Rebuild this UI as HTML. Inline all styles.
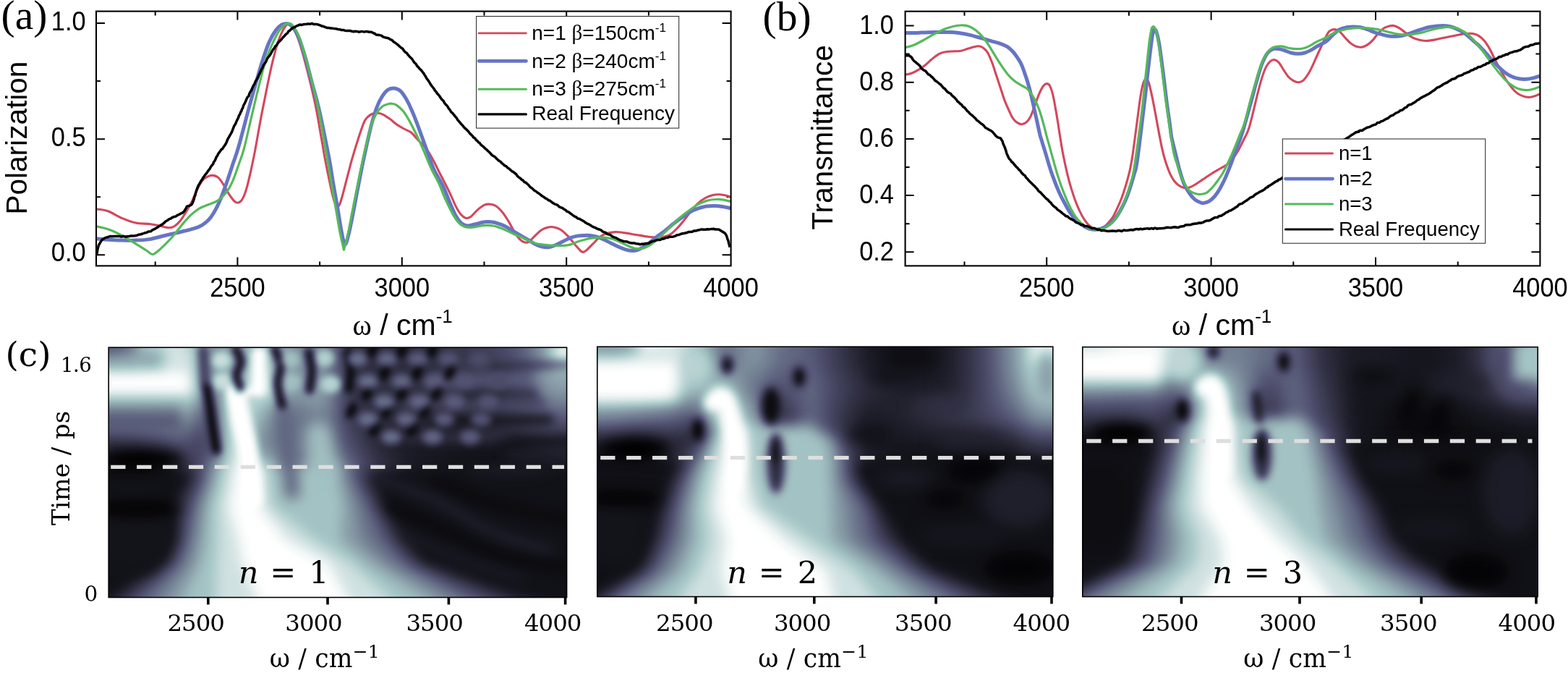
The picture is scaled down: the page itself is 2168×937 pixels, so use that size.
<!DOCTYPE html>
<html lang="en"><head><meta charset="utf-8"><title>Figure</title>
<style>html,body{margin:0;padding:0;background:#fff;overflow:hidden}svg{display:block}text{white-space:pre}</style></head><body>
<svg width="2168" height="937" viewBox="0 0 2168 937">
<rect width="2168" height="937" fill="#fff"/>
<g id="panel-a">
<clipPath id="clipA"><rect x="133.0" y="15.6" width="877.6" height="351.8"/></clipPath>
<path d="M328.4 367.4 v-12.0 M555.8 367.4 v-12.0 M783.2 367.4 v-12.0 " stroke="#000" stroke-width="2" fill="none"/>
<path d="M214.7 367.4 v-6.0 M442.1 367.4 v-6.0 M669.5 367.4 v-6.0 M896.9 367.4 v-6.0 " stroke="#000" stroke-width="2" fill="none"/>
<path d="M328.4 15.6 v12.0 M555.8 15.6 v12.0 M783.2 15.6 v12.0 " stroke="#000" stroke-width="2" fill="none"/>
<path d="M214.7 15.6 v6.0 M442.1 15.6 v6.0 M669.5 15.6 v6.0 M896.9 15.6 v6.0 " stroke="#000" stroke-width="2" fill="none"/>
<path d="M133.0 352.3 h12.0 M133.0 192.2 h12.0 M133.0 32.0 h12.0 " stroke="#000" stroke-width="2" fill="none"/>
<path d="M133.0 272.2 h6.0 M133.0 112.1 h6.0 " stroke="#000" stroke-width="2" fill="none"/>
<path d="M1010.6 352.3 h-12.0 M1010.6 192.2 h-12.0 M1010.6 32.0 h-12.0 " stroke="#000" stroke-width="2" fill="none"/>
<path d="M1010.6 272.2 h-6.0 M1010.6 112.1 h-6.0 " stroke="#000" stroke-width="2" fill="none"/>
<g clip-path="url(#clipA)" fill="none" stroke-linejoin="round" stroke-linecap="butt">
<path d="M133.3 288.9 C135.9 289.4 143.3 289.7 149.2 291.8 C155.1 293.9 162.0 298.7 168.4 301.4 C174.8 304.1 181.2 306.8 187.6 308.1 C194.0 309.5 201.4 308.8 206.8 309.5 C212.3 310.1 215.8 311.1 220.3 312.0 C224.7 312.8 230.2 314.7 233.7 314.8 C237.2 314.9 238.8 314.1 241.4 312.5 C243.9 310.9 246.5 308.4 249.1 305.2 C251.6 302.1 254.2 297.9 256.8 293.7 C259.3 289.5 261.9 285.4 264.4 280.3 C267.0 275.1 269.6 268.1 272.1 263.0 C274.7 257.9 277.2 252.7 279.8 249.5 C282.4 246.3 285.1 245.0 287.5 243.8 C289.9 242.6 292.0 242.3 294.2 242.4 C296.4 242.6 298.8 243.2 300.9 244.7 C303.0 246.2 304.8 248.7 306.7 251.5 C308.6 254.2 310.5 257.9 312.4 261.1 C314.4 264.3 316.3 267.8 318.2 270.7 C320.1 273.5 322.2 276.4 324.0 278.0 C325.7 279.6 327.2 280.4 328.8 280.3 C330.4 280.2 332.1 279.0 333.6 277.4 C335.0 275.8 336.1 273.7 337.4 270.7 C338.7 267.6 340.0 263.6 341.3 259.1 C342.5 254.7 343.8 249.2 345.1 243.8 C346.4 238.3 347.7 232.6 348.9 226.5 C350.2 220.4 350.8 217.8 352.8 207.3 C354.7 196.8 358.4 175.7 360.7 163.6 C362.9 151.6 364.5 144.4 366.4 134.8 C368.3 125.2 370.3 115.0 372.2 106.0 C374.1 97.1 376.0 88.7 377.9 81.1 C379.9 73.4 381.8 65.9 383.7 59.9 C385.6 53.9 387.5 49.2 389.5 45.1 C391.4 41.1 393.6 37.5 395.2 35.5 C396.8 33.6 397.1 32.7 399.1 33.6 C401.0 34.6 404.2 36.9 406.8 41.3 C409.3 45.7 411.9 52.3 414.4 59.9 C417.0 67.5 419.6 77.2 422.1 86.8 C424.7 96.4 427.2 106.7 429.8 117.5 C432.4 128.4 435.1 140.0 437.5 152.1 C439.9 164.2 442.2 178.8 444.2 190.0 C446.2 201.1 447.4 209.2 449.2 218.8 C451.0 228.4 452.9 238.0 455.0 247.6 C457.0 257.2 459.6 270.2 461.7 276.4 C463.8 282.7 465.7 285.4 467.4 285.1 C469.2 284.7 470.2 281.1 472.3 274.5 C474.3 267.9 477.4 255.3 479.9 245.7 C482.5 236.1 484.1 228.6 487.6 216.9 C491.1 205.1 497.7 184.0 500.9 175.2 C504.0 166.3 504.4 166.6 506.6 163.6 C508.9 160.7 511.7 158.7 514.3 157.5 C516.9 156.3 519.4 156.2 522.0 156.3 C524.5 156.5 526.8 156.9 529.7 158.3 C532.5 159.6 536.1 162.3 539.3 164.6 C542.5 166.9 545.7 170.0 548.9 172.3 C552.1 174.5 555.3 176.3 558.5 178.0 C561.7 179.8 565.0 180.5 568.1 182.8 C571.1 185.2 574.1 189.3 576.8 192.2 C579.6 195.0 581.9 197.0 584.5 199.9 C587.1 202.7 589.6 205.6 592.2 209.5 C594.7 213.3 597.3 218.1 599.9 222.9 C602.4 227.7 603.9 231.0 607.5 238.3 C611.2 245.6 618.4 259.2 622.0 266.8 C625.7 274.5 627.2 279.1 629.7 284.1 C632.3 289.1 635.0 293.7 637.4 296.6 C639.8 299.5 641.9 300.9 644.1 301.4 C646.4 301.9 648.1 301.4 650.9 299.5 C653.6 297.5 657.3 292.6 660.5 289.9 C663.7 287.1 667.2 284.4 670.1 283.1 C672.9 281.9 675.2 282.0 677.7 282.2 C680.3 282.4 682.5 282.6 685.4 284.5 C688.3 286.4 692.1 290.2 695.0 293.7 C697.9 297.2 700.1 301.1 702.7 305.2 C705.3 309.4 707.8 314.5 710.4 318.7 C713.0 322.8 715.5 327.5 718.1 330.2 C720.6 332.9 723.5 334.4 725.8 335.0 C728.0 335.6 729.3 335.5 731.5 334.0 C733.8 332.6 736.3 329.1 739.2 326.4 C742.1 323.6 745.6 319.8 748.8 317.7 C752.0 315.6 755.5 314.5 758.4 313.9 C761.3 313.2 763.2 313.2 766.1 313.9 C769.0 314.5 772.5 315.6 775.7 317.7 C778.9 319.8 782.1 323.0 785.3 326.4 C788.5 329.7 792.0 334.5 794.9 337.9 C797.8 341.2 800.7 344.8 802.6 346.5 C804.5 348.3 805.0 348.6 806.4 348.4 C807.9 348.3 809.0 347.5 811.2 345.6 C813.5 343.6 816.8 340.0 819.9 336.9 C822.9 333.9 826.3 329.7 829.5 327.3 C832.7 324.9 835.5 323.6 839.1 322.5 C842.6 321.4 846.8 320.8 850.6 320.6 C854.4 320.4 858.3 321.1 862.1 321.6 C866.0 322.0 869.8 322.8 873.6 323.5 C877.5 324.1 881.3 324.8 885.2 325.4 C889.0 326.0 892.8 326.9 896.7 327.3 C900.5 327.7 904.7 327.9 908.2 327.9 C911.7 327.9 914.6 328.1 917.8 327.3 C921.0 326.6 924.2 325.6 927.4 323.5 C930.6 321.4 933.8 318.2 937.0 314.8 C940.2 311.5 943.4 307.3 946.6 303.3 C949.8 299.3 953.0 294.7 956.2 290.8 C959.4 287.0 962.6 283.1 965.8 280.3 C969.0 277.4 972.2 275.3 975.4 273.5 C978.6 271.8 981.8 270.5 985.0 269.7 C988.2 268.9 991.4 268.6 994.6 268.7 C997.8 268.8 1001.5 269.6 1004.2 270.3 C1007.0 270.9 1009.8 272.2 1011.0 272.6" stroke="#d4475d" stroke-width="3.1"/>
<path d="M133.3 329.8 C135.9 330.0 143.3 330.8 149.2 331.2 C155.1 331.5 162.0 332.0 168.4 332.1 C174.8 332.3 181.2 332.4 187.6 332.1 C194.0 331.9 200.4 331.6 206.8 330.6 C213.2 329.6 219.6 327.5 226.0 326.0 C232.4 324.5 238.8 323.1 245.2 321.6 C251.6 320.0 259.3 318.2 264.4 316.8 C269.6 315.3 272.8 314.4 276.0 312.9 C279.2 311.5 281.1 310.2 283.6 308.1 C286.2 306.0 288.8 303.8 291.3 300.4 C293.9 297.1 296.4 292.9 299.0 287.9 C301.6 283.0 304.1 277.1 306.7 270.7 C309.2 264.3 311.8 256.9 314.4 249.5 C316.9 242.2 319.5 234.2 322.0 226.5 C324.6 218.8 326.2 215.8 329.7 203.4 C333.3 191.0 339.5 166.4 343.4 152.1 C347.3 137.8 349.8 128.8 353.0 117.5 C356.2 106.3 359.4 94.8 362.6 84.9 C365.8 75.0 369.0 65.3 372.2 58.0 C375.4 50.7 378.9 45.3 381.8 41.3 C384.7 37.3 387.1 35.6 389.5 34.2 C391.9 32.8 393.9 32.5 396.2 32.7 C398.4 32.9 400.2 32.3 402.9 35.4 C405.6 38.4 409.3 43.4 412.5 50.7 C415.7 58.0 418.9 68.3 422.1 79.1 C425.3 90.0 428.5 103.5 431.7 115.6 C434.9 127.8 437.4 134.9 441.3 152.1 C445.2 169.3 451.7 201.9 455.0 218.8 C458.2 235.7 458.8 242.2 460.7 253.4 C462.6 264.6 464.6 274.8 466.5 286.0 C468.4 297.2 470.5 312.0 472.3 320.6 C474.0 329.2 475.5 336.9 477.1 337.5 C478.7 338.1 480.1 331.1 481.9 324.4 C483.6 317.8 485.4 308.8 487.6 297.5 C489.9 286.3 492.7 270.3 495.3 257.2 C497.9 244.1 500.0 232.8 503.0 218.8 C506.0 204.8 510.4 184.8 513.4 173.0 C516.5 161.2 518.6 154.7 521.1 148.0 C523.7 141.3 526.2 136.6 528.8 132.6 C531.4 128.6 533.8 125.8 536.5 124.0 C539.2 122.2 542.3 121.8 545.1 122.1 C548.0 122.4 551.1 123.5 553.8 125.9 C556.5 128.3 558.9 132.2 561.5 136.5 C564.0 140.8 566.6 146.1 569.1 151.9 C571.7 157.6 574.3 164.3 576.8 171.1 C579.4 177.8 581.9 185.1 584.5 192.2 C587.1 199.2 589.6 206.3 592.2 213.3 C594.7 220.4 596.5 227.1 599.9 234.4 C603.2 241.8 608.7 249.6 612.4 257.2 C616.1 264.9 619.2 273.5 622.0 280.3 C624.9 287.0 627.2 292.9 629.7 297.5 C632.3 302.2 634.9 305.7 637.4 308.1 C640.0 310.5 641.9 311.6 645.1 312.0 C648.3 312.3 652.5 310.9 656.6 310.0 C660.8 309.2 666.2 307.3 670.1 306.8 C673.9 306.2 676.5 306.4 679.7 306.8 C682.9 307.1 686.1 308.0 689.3 309.1 C692.5 310.1 695.7 311.3 698.9 312.9 C702.1 314.5 705.3 316.8 708.5 318.7 C711.7 320.6 714.6 322.4 718.1 324.4 C721.6 326.5 726.1 329.1 729.6 331.2 C733.1 333.2 736.0 335.3 739.2 336.9 C742.4 338.5 745.6 340.0 748.8 340.8 C752.0 341.6 755.2 342.0 758.4 341.7 C761.6 341.4 764.8 340.1 768.0 338.8 C771.2 337.6 774.4 335.6 777.6 334.0 C780.8 332.4 784.0 330.5 787.2 329.2 C790.4 328.0 793.6 327.0 796.8 326.4 C800.0 325.7 803.2 325.6 806.4 325.4 C809.6 325.2 812.8 325.1 816.0 325.4 C819.2 325.7 822.4 326.4 825.6 327.3 C828.8 328.3 832.0 329.7 835.2 331.2 C838.4 332.6 841.6 334.4 844.8 336.0 C848.0 337.6 851.2 339.3 854.4 340.8 C857.6 342.2 860.8 343.6 864.0 344.6 C867.2 345.6 870.8 346.4 873.6 346.5 C876.5 346.7 878.8 346.4 881.3 345.6 C883.9 344.8 886.1 343.5 889.0 341.7 C891.9 340.0 895.4 337.4 898.6 335.0 C901.8 332.6 904.7 330.0 908.2 327.3 C911.7 324.6 915.9 321.7 919.7 318.7 C923.6 315.6 927.4 312.1 931.3 309.1 C935.1 306.0 938.9 303.1 942.8 300.4 C946.6 297.7 950.5 294.8 954.3 292.7 C958.1 290.7 962.0 289.2 965.8 287.9 C969.7 286.7 973.5 285.6 977.3 285.1 C981.2 284.5 985.3 284.4 988.9 284.5 C992.4 284.6 994.8 284.9 998.5 285.4 C1002.2 286.0 1008.9 287.5 1011.0 287.9" stroke="#6675c4" stroke-width="5"/>
<path d="M133.3 312.9 C135.9 313.6 143.3 314.7 149.2 316.8 C155.1 318.8 162.0 322.0 168.4 325.4 C174.8 328.8 181.9 333.4 187.6 336.9 C193.4 340.4 199.0 344.1 203.0 346.5 C206.9 349.0 208.2 352.0 211.4 351.5 C214.6 351.0 217.8 347.5 222.2 343.6 C226.5 339.8 232.4 334.0 237.5 328.3 C242.7 322.5 248.4 314.4 252.9 309.1 C257.4 303.8 260.6 300.1 264.4 296.6 C268.3 293.1 272.1 290.2 276.0 287.9 C279.8 285.7 283.6 284.7 287.5 283.1 C291.3 281.5 295.8 280.1 299.0 278.3 C302.2 276.6 304.1 275.0 306.7 272.6 C309.2 270.2 311.8 267.8 314.4 263.9 C316.9 260.1 319.5 255.5 322.0 249.5 C324.6 243.6 327.2 235.8 329.7 228.4 C332.3 221.0 334.5 216.2 337.4 205.4 C340.3 194.6 344.0 177.3 347.2 163.6 C350.5 150.0 353.6 136.1 356.8 123.3 C360.0 110.5 363.2 97.1 366.4 86.8 C369.6 76.6 372.8 69.1 376.0 61.9 C379.2 54.6 382.7 47.8 385.6 43.2 C388.5 38.6 391.1 36.2 393.3 34.4 C395.5 32.6 397.1 32.5 399.1 32.7 C401.0 32.8 402.3 32.0 404.8 35.4 C407.4 38.7 411.2 44.4 414.4 52.6 C417.6 60.9 420.8 73.4 424.0 84.9 C427.2 96.4 430.8 109.5 433.6 121.4 C436.5 133.2 438.1 139.1 441.3 156.0 C444.6 172.8 450.1 205.8 453.0 222.6 C456.0 239.5 456.9 246.0 458.8 257.2 C460.7 268.4 462.6 279.0 464.6 289.9 C466.5 300.7 468.6 313.8 470.3 322.5 C472.0 331.2 473.9 338.3 474.7 342.1 C475.6 345.9 475.3 345.2 475.5 345.2 C475.8 345.2 475.4 345.6 476.3 342.1 C477.2 338.6 479.0 333.1 480.9 324.4 C482.8 315.7 485.2 302.0 487.6 289.9 C490.0 277.7 492.7 263.9 495.3 251.5 C497.9 239.0 500.0 228.0 503.0 215.0 C506.0 201.9 510.4 182.9 513.4 173.0 C516.5 163.1 518.6 160.0 521.1 155.7 C523.7 151.4 526.2 149.0 528.8 147.1 C531.4 145.1 534.4 144.4 536.5 143.8 C538.6 143.1 539.4 143.0 541.3 143.2 C543.2 143.4 545.3 143.4 548.0 145.1 C550.7 146.9 554.4 149.8 557.6 153.8 C560.8 157.8 564.0 163.4 567.2 169.1 C570.4 174.9 573.6 181.6 576.8 188.3 C580.0 195.1 583.2 202.1 586.4 209.5 C589.6 216.8 592.6 225.2 596.0 232.5 C599.4 239.8 603.3 246.1 606.7 253.4 C610.1 260.7 613.1 269.4 616.3 276.4 C619.5 283.5 623.0 290.5 625.9 295.6 C628.8 300.7 631.0 304.3 633.6 307.1 C636.1 310.0 638.4 311.7 641.3 312.9 C644.1 314.1 647.7 314.4 650.9 314.4 C654.1 314.4 656.9 313.4 660.5 312.9 C664.0 312.4 668.5 311.5 672.0 311.4 C675.5 311.2 678.4 311.4 681.6 312.0 C684.8 312.5 688.0 313.7 691.2 314.8 C694.4 316.0 697.6 317.2 700.8 318.7 C704.0 320.1 707.2 322.0 710.4 323.5 C713.6 324.9 716.8 325.9 720.0 327.3 C723.2 328.8 726.4 330.7 729.6 332.1 C732.8 333.6 736.0 335.0 739.2 336.0 C742.4 336.9 745.6 337.4 748.8 337.9 C752.0 338.4 754.9 338.6 758.4 338.8 C761.9 339.1 766.4 339.3 769.9 339.4 C773.5 339.5 776.3 339.7 779.5 339.4 C782.7 339.2 785.9 338.8 789.1 337.9 C792.3 337.0 795.5 335.2 798.7 334.0 C801.9 332.9 805.1 332.0 808.3 331.2 C811.5 330.4 814.7 329.7 817.9 329.2 C821.1 328.8 824.3 328.4 827.5 328.3 C830.7 328.1 833.9 328.0 837.1 328.3 C840.4 328.6 843.6 329.2 846.8 330.2 C850.0 331.2 853.2 332.6 856.4 334.0 C859.6 335.5 862.8 337.4 866.0 338.8 C869.2 340.3 872.7 341.9 875.6 342.7 C878.4 343.5 880.7 343.6 883.2 343.6 C885.8 343.6 888.4 343.5 890.9 342.7 C893.5 341.9 895.7 340.8 898.6 338.8 C901.5 336.9 904.7 334.2 908.2 331.2 C911.7 328.1 915.9 324.3 919.7 320.6 C923.6 316.9 927.4 312.8 931.3 309.1 C935.1 305.4 938.9 301.7 942.8 298.5 C946.6 295.3 950.5 292.6 954.3 289.9 C958.1 287.1 962.0 284.3 965.8 282.2 C969.7 280.1 973.5 278.5 977.3 277.4 C981.2 276.3 985.3 275.7 988.9 275.5 C992.4 275.2 994.8 275.3 998.5 275.8 C1002.2 276.4 1008.9 278.2 1011.0 278.7" stroke="#55b95a" stroke-width="3.2"/>
<path d="M133.8 351.3 L134.2 349.3 L134.6 346.9 L134.9 344.4 L135.9 341.1 L136.7 338.3 L138.1 336.2 L139.6 333.5 L141.1 331.4 L143.3 330.0 L145.5 328.7 L147.2 328.1 L149.7 327.5 L152.0 326.5 L155.0 326.8 L157.6 326.5 L160.2 326.6 L162.9 326.4 L165.7 326.6 L168.2 327.2 L170.7 326.3 L173.4 327.2 L176.0 326.7 L178.7 326.5 L181.3 326.1 L184.0 326.1 L186.8 325.7 L189.5 325.2 L191.8 324.3 L194.8 323.7 L197.3 323.0 L199.8 322.0 L202.7 321.4 L205.2 320.0 L208.3 319.8 L210.8 317.8 L212.9 316.9 L215.5 315.4 L217.4 314.5 L219.7 312.7 L222.1 311.3 L224.7 309.9 L227.0 307.9 L228.9 306.0 L231.2 304.8 L233.7 302.9 L235.9 302.2 L238.6 300.3 L241.0 299.5 L243.0 299.1 L245.2 297.5 L247.9 296.3 L250.6 294.8 L252.9 293.8 L254.9 291.7 L256.4 289.1 L257.5 287.5 L258.4 285.1 L261.6 284.4 L264.5 283.1 L265.3 282.3 L266.3 280.3 L267.2 277.8 L268.4 274.7 L268.8 271.9 L269.9 270.3 L270.4 267.3 L271.1 265.0 L272.0 262.1 L273.0 259.5 L274.0 257.0 L275.0 255.2 L276.6 252.7 L277.8 250.2 L279.2 248.6 L280.8 245.7 L282.0 244.2 L283.6 241.6 L285.2 239.9 L286.7 237.8 L288.5 235.1 L290.0 233.6 L291.5 230.5 L293.1 228.4 L294.6 226.8 L295.5 223.9 L296.9 222.4 L298.0 220.1 L299.1 217.1 L300.3 215.6 L301.6 212.9 L302.8 211.0 L304.2 209.4 L306.0 206.5 L307.5 205.8 L309.0 203.3 L310.4 201.5 L312.6 198.0 L313.4 196.1 L314.3 193.7 L315.3 191.5 L316.5 189.7 L317.6 187.5 L319.1 185.1 L320.4 182.6 L321.5 180.0 L322.8 176.4 L323.7 174.1 L325.0 172.2 L326.3 169.6 L327.0 167.7 L328.2 165.3 L329.5 162.7 L330.4 159.9 L331.8 157.7 L332.8 154.9 L333.8 153.6 L334.4 151.3 L335.8 148.9 L336.5 146.1 L337.6 144.2 L338.8 141.8 L339.8 139.8 L341.0 136.6 L342.2 134.3 L343.8 132.9 L344.8 129.5 L345.9 127.4 L347.3 125.1 L348.4 122.9 L349.5 120.1 L350.8 117.6 L352.0 115.9 L353.1 112.7 L354.5 110.7 L355.6 108.8 L356.9 106.4 L358.0 103.5 L359.3 101.1 L360.5 98.6 L361.5 96.1 L362.9 93.8 L364.0 90.8 L365.4 88.9 L366.4 87.3 L367.9 84.9 L369.1 81.8 L370.7 79.4 L372.1 77.9 L373.4 75.9 L374.7 73.8 L376.1 71.0 L377.5 68.5 L379.0 67.1 L380.6 63.9 L382.3 62.7 L384.2 59.5 L385.8 57.6 L387.7 55.9 L389.5 54.0 L391.2 51.8 L393.3 49.7 L395.0 47.7 L397.4 45.8 L399.0 43.1 L401.1 41.9 L402.8 39.9 L404.9 38.5 L407.2 37.7 L409.6 36.1 L412.0 35.2 L414.4 34.1 L416.8 34.5 L419.1 33.8 L421.8 33.5 L424.0 33.3 L426.5 32.9 L428.7 33.3 L431.4 32.4 L433.6 33.5 L436.1 33.4 L438.3 33.6 L440.9 34.3 L443.1 35.1 L445.6 36.3 L447.5 36.6 L449.9 37.6 L452.7 38.5 L454.6 38.4 L456.9 39.1 L459.3 39.1 L462.0 39.6 L464.7 39.7 L467.1 40.4 L469.7 40.7 L472.1 41.5 L474.6 41.4 L476.8 42.2 L479.5 42.4 L481.5 42.5 L484.2 42.5 L486.7 43.3 L488.7 43.8 L491.1 43.2 L493.8 43.4 L496.5 44.3 L499.1 43.6 L501.4 43.6 L503.8 44.1 L506.5 43.4 L508.4 43.7 L510.5 44.3 L513.5 44.2 L515.9 45.6 L517.9 46.2 L520.0 48.0 L522.3 48.2 L524.9 48.6 L527.4 49.1 L529.5 50.8 L532.0 51.7 L534.6 52.3 L537.0 52.7 L539.4 54.4 L541.8 55.3 L544.2 57.8 L546.3 59.1 L548.8 60.9 L550.9 62.7 L552.6 64.2 L554.7 66.0 L556.7 67.3 L558.3 69.7 L560.2 72.0 L562.3 73.2 L564.1 75.6 L566.0 77.9 L567.9 79.9 L569.8 81.5 L571.5 84.5 L573.3 86.8 L575.2 88.5 L576.8 91.4 L578.5 92.9 L579.9 94.8 L582.2 96.9 L584.6 100.0 L585.8 101.4 L586.8 103.1 L588.1 105.2 L589.9 108.4 L591.2 110.0 L593.1 112.7 L594.7 115.5 L595.9 117.4 L597.3 119.2 L598.9 121.3 L600.2 122.8 L601.6 125.4 L603.4 127.3 L604.6 129.4 L606.1 130.8 L607.8 132.8 L608.9 134.8 L610.3 136.8 L611.8 138.4 L613.2 139.5 L614.5 142.2 L615.9 143.9 L617.5 145.5 L619.1 147.5 L620.4 150.0 L622.1 151.7 L623.2 154.0 L625.0 155.9 L626.4 157.0 L627.9 159.2 L629.9 161.5 L631.5 163.2 L632.7 165.6 L634.5 167.6 L636.2 169.7 L637.8 171.5 L639.8 173.6 L641.2 175.6 L643.0 177.4 L644.5 178.5 L646.2 180.3 L648.1 182.3 L649.8 184.7 L651.6 186.2 L653.2 187.8 L654.9 190.1 L656.8 191.1 L658.3 193.5 L660.1 194.7 L661.6 196.7 L663.3 197.6 L665.0 200.2 L666.9 201.7 L668.8 203.2 L670.8 205.3 L672.7 206.7 L674.8 208.7 L676.5 210.3 L678.6 212.5 L680.3 214.5 L682.4 215.8 L684.6 217.0 L686.1 218.8 L688.0 220.6 L690.1 222.3 L691.8 223.2 L693.9 225.5 L695.9 227.1 L697.8 228.9 L699.8 229.7 L702.0 232.0 L703.8 233.1 L706.2 235.1 L707.6 236.6 L709.5 237.4 L711.0 238.8 L713.7 240.7 L715.2 243.2 L717.2 244.9 L720.2 247.0 L721.3 248.5 L723.2 249.2 L724.8 251.5 L727.1 252.4 L728.9 254.0 L731.1 256.0 L733.0 258.5 L735.3 260.0 L737.3 261.8 L739.1 263.5 L741.2 264.5 L743.5 266.5 L745.4 267.5 L747.8 269.5 L749.8 271.0 L751.8 272.2 L753.9 273.9 L756.4 275.0 L758.2 276.6 L760.7 277.5 L762.9 279.3 L764.8 280.8 L767.1 282.1 L769.0 282.7 L771.2 283.6 L773.2 285.9 L775.3 286.7 L777.7 287.4 L779.5 289.0 L782.0 290.3 L783.8 292.2 L786.4 293.2 L788.3 294.6 L790.6 296.3 L792.7 297.9 L794.5 299.2 L796.6 300.0 L798.8 302.1 L801.3 302.4 L803.4 303.8 L805.3 304.8 L807.6 306.1 L809.7 307.8 L811.9 309.1 L813.9 309.7 L815.8 310.9 L818.5 312.7 L820.8 313.9 L823.4 314.8 L825.7 316.2 L828.3 317.0 L830.7 317.8 L833.0 319.8 L835.3 320.8 L837.6 321.5 L839.9 323.6 L842.1 324.1 L844.3 324.9 L846.7 326.9 L848.9 327.8 L850.8 328.4 L853.1 329.5 L855.7 331.0 L857.7 332.0 L859.8 332.6 L862.3 333.7 L865.2 333.7 L867.7 334.3 L870.7 335.6 L873.7 336.0 L876.7 335.9 L879.6 336.7 L882.7 337.1 L885.1 337.8 L887.8 337.1 L889.9 337.3 L893.0 336.5 L895.1 336.6 L897.4 336.1 L899.4 334.5 L902.0 333.6 L904.4 333.1 L907.3 332.1 L909.9 331.4 L912.9 331.4 L915.8 330.0 L918.0 330.0 L920.7 328.5 L923.2 328.4 L925.8 327.1 L928.6 327.3 L931.4 326.9 L933.6 326.3 L936.1 324.7 L938.9 324.4 L941.5 323.3 L944.0 322.7 L946.8 322.2 L949.1 321.8 L951.8 320.6 L954.5 320.6 L957.2 320.3 L959.4 318.9 L962.1 319.0 L965.0 318.1 L967.4 317.7 L969.9 316.9 L973.0 317.2 L975.4 317.2 L978.4 316.8 L981.1 316.9 L983.9 316.4 L986.4 316.2 L989.1 317.0 L991.9 317.1 L994.3 317.3 L996.5 318.7 L999.5 320.6 L1002.3 322.3 L1003.9 324.6 L1005.2 327.6 L1005.9 330.3 L1007.0 333.2 L1007.7 336.4 L1008.7 339.8 L1009.0 341.7" stroke="#000" stroke-width="3.5"/>
</g>
<rect x="133.0" y="15.6" width="877.6" height="351.8" fill="none" stroke="#000" stroke-width="2.1"/>
<rect x="658.6" y="22.5" width="280.1" height="154.6" fill="#fff" stroke="#222" stroke-width="1"/>
<path d="M662.1 45.9 H727.4" stroke="#d4475d" stroke-width="2.8" stroke-linecap="round"/>
<path d="M662.1 84.3 H727.4" stroke="#6675c4" stroke-width="4.8" stroke-linecap="round"/>
<path d="M662.1 123.3 H727.4" stroke="#55b95a" stroke-width="3" stroke-linecap="round"/>
<path d="M662.1 157.9 H727.4" stroke="#000" stroke-width="3.2" stroke-linecap="round"/>
<text x="735.3" y="54.6" font-size="28" text-anchor="start" font-family='"Liberation Sans", sans-serif' fill="#000" >n=1 <tspan font-family='"Liberation Serif", serif' font-size="29">β</tspan>=150cm<tspan dy="-11" font-size="17">-1</tspan></text>
<text x="735.3" y="93.6" font-size="28" text-anchor="start" font-family='"Liberation Sans", sans-serif' fill="#000" >n=2 <tspan font-family='"Liberation Serif", serif' font-size="29">β</tspan>=240cm<tspan dy="-11" font-size="17">-1</tspan></text>
<text x="735.3" y="131.6" font-size="28" text-anchor="start" font-family='"Liberation Sans", sans-serif' fill="#000" >n=3 <tspan font-family='"Liberation Serif", serif' font-size="29">β</tspan>=275cm<tspan dy="-11" font-size="17">-1</tspan></text>
<text x="735.3" y="166.2" font-size="28" text-anchor="start" font-family='"Liberation Sans", sans-serif' fill="#000" >Real Frequency</text>
<text x="328.4" y="409.5" font-size="36" text-anchor="middle" font-family='"Liberation Sans", sans-serif' fill="#000" textLength="76.5" lengthAdjust="spacingAndGlyphs">2500</text>
<text x="555.8" y="409.5" font-size="36" text-anchor="middle" font-family='"Liberation Sans", sans-serif' fill="#000" textLength="76.5" lengthAdjust="spacingAndGlyphs">3000</text>
<text x="783.2" y="409.5" font-size="36" text-anchor="middle" font-family='"Liberation Sans", sans-serif' fill="#000" textLength="76.5" lengthAdjust="spacingAndGlyphs">3500</text>
<text x="1010.6" y="409.5" font-size="36" text-anchor="middle" font-family='"Liberation Sans", sans-serif' fill="#000" textLength="76.5" lengthAdjust="spacingAndGlyphs">4000</text>
<text x="118.6" y="361.1" font-size="36" text-anchor="end" font-family='"Liberation Sans", sans-serif' fill="#000" textLength="47.8" lengthAdjust="spacingAndGlyphs">0.0</text>
<text x="118.6" y="202.0" font-size="36" text-anchor="end" font-family='"Liberation Sans", sans-serif' fill="#000" textLength="47.8" lengthAdjust="spacingAndGlyphs">0.5</text>
<text x="118.6" y="41.8" font-size="36" text-anchor="end" font-family='"Liberation Sans", sans-serif' fill="#000" textLength="47.8" lengthAdjust="spacingAndGlyphs">1.0</text>
<text x="0.0" y="0.0" font-size="40.6" text-anchor="middle" font-family='"Liberation Sans", sans-serif' fill="#000" transform="translate(36.8 190.6) rotate(-90)">Polarization</text>
<text x="487.5" y="462.5" font-size="41" text-anchor="start" font-family='"Liberation Sans", sans-serif' fill="#000" ><tspan font-family='"Liberation Serif", serif' font-size="40">ω</tspan> / cm<tspan dy="-17" font-size="26">-1</tspan></text>
<text x="1.5" y="39.6" font-size="57.5" text-anchor="start" font-family='"Liberation Serif", serif' fill="#000" >(a)</text>
</g>
<g id="panel-b">
<clipPath id="clipB"><rect x="1251.6" y="15.7" width="877.8" height="351.7"/></clipPath>
<path d="M1447.2 367.4 v-12.0 M1674.6 367.4 v-12.0 M1902.0 367.4 v-12.0 " stroke="#000" stroke-width="2" fill="none"/>
<path d="M1333.5 367.4 v-6.0 M1560.9 367.4 v-6.0 M1788.3 367.4 v-6.0 M2015.7 367.4 v-6.0 " stroke="#000" stroke-width="2" fill="none"/>
<path d="M1447.2 15.7 v12.0 M1674.6 15.7 v12.0 M1902.0 15.7 v12.0 " stroke="#000" stroke-width="2" fill="none"/>
<path d="M1333.5 15.7 v6.0 M1560.9 15.7 v6.0 M1788.3 15.7 v6.0 M2015.7 15.7 v6.0 " stroke="#000" stroke-width="2" fill="none"/>
<path d="M1251.6 348.3 h12.0 M1251.6 270.1 h12.0 M1251.6 191.9 h12.0 M1251.6 113.7 h12.0 M1251.6 35.5 h12.0 " stroke="#000" stroke-width="2" fill="none"/>
<path d="M1251.6 309.2 h6.0 M1251.6 231.0 h6.0 M1251.6 152.8 h6.0 M1251.6 74.6 h6.0 " stroke="#000" stroke-width="2" fill="none"/>
<path d="M2129.4 348.3 h-12.0 M2129.4 270.1 h-12.0 M2129.4 191.9 h-12.0 M2129.4 113.7 h-12.0 M2129.4 35.5 h-12.0 " stroke="#000" stroke-width="2" fill="none"/>
<path d="M2129.4 309.2 h-6.0 M2129.4 231.0 h-6.0 M2129.4 152.8 h-6.0 M2129.4 74.6 h-6.0 " stroke="#000" stroke-width="2" fill="none"/>
<g clip-path="url(#clipB)" fill="none" stroke-linejoin="round" stroke-linecap="butt">
<path d="M1251.7 103.1 C1253.2 102.8 1257.3 102.3 1260.4 101.2 C1263.4 100.1 1266.8 98.3 1270.0 96.4 C1273.2 94.5 1276.4 92.3 1279.6 89.7 C1282.8 87.1 1286.0 83.6 1289.2 81.1 C1292.4 78.5 1295.6 75.9 1298.8 74.3 C1302.0 72.7 1305.2 72.0 1308.4 71.5 C1311.6 70.9 1314.8 71.0 1318.0 70.9 C1321.2 70.7 1324.4 71.0 1327.6 70.5 C1330.8 70.0 1334.0 68.6 1337.2 67.6 C1340.4 66.7 1344.1 65.4 1346.8 64.7 C1349.5 64.1 1351.3 63.5 1353.5 63.8 C1355.7 64.1 1358.1 65.1 1360.2 66.7 C1362.3 68.3 1364.1 70.0 1366.0 73.4 C1367.9 76.7 1369.8 81.7 1371.8 86.8 C1373.7 91.9 1375.6 98.3 1377.5 104.1 C1379.4 109.9 1381.4 115.6 1383.3 121.4 C1385.2 127.1 1387.1 133.6 1389.0 138.7 C1391.0 143.8 1392.9 148.0 1394.8 152.1 C1396.7 156.3 1398.6 160.8 1400.6 163.6 C1402.5 166.5 1404.2 168.1 1406.3 169.4 C1408.4 170.7 1410.8 171.9 1413.0 171.7 C1415.3 171.5 1417.7 170.4 1419.8 168.4 C1421.8 166.5 1423.6 163.8 1425.5 159.8 C1427.4 155.8 1429.4 149.6 1431.3 144.4 C1433.2 139.3 1435.1 133.4 1437.0 129.1 C1439.0 124.7 1441.1 120.7 1442.8 118.5 C1444.6 116.3 1446.2 115.6 1447.6 115.6 C1449.1 115.6 1450.2 116.3 1451.5 118.5 C1452.7 120.7 1454.0 124.1 1455.3 129.1 C1456.6 134.0 1457.9 141.2 1459.1 148.3 C1460.4 155.3 1461.9 164.4 1463.0 171.3 C1464.1 178.3 1464.7 183.0 1465.9 190.0 C1467.0 196.9 1468.2 204.7 1469.8 213.0 C1471.5 221.4 1473.7 231.9 1475.6 239.9 C1477.5 247.9 1479.4 254.7 1481.4 261.1 C1483.3 267.5 1485.2 273.2 1487.1 278.3 C1489.0 283.5 1491.0 287.8 1492.9 291.8 C1494.8 295.8 1496.7 299.3 1498.6 302.3 C1500.6 305.4 1502.5 308.0 1504.4 310.0 C1506.3 312.1 1508.2 313.6 1510.2 314.8 C1512.1 316.0 1514.0 317.0 1515.9 317.1 C1517.8 317.3 1519.8 316.5 1521.7 315.8 C1523.6 315.1 1525.5 314.4 1527.4 312.9 C1529.4 311.5 1531.3 309.4 1533.2 307.1 C1535.1 304.9 1537.0 302.7 1539.0 299.5 C1540.9 296.3 1542.8 292.1 1544.7 287.9 C1546.7 283.8 1548.6 279.6 1550.5 274.5 C1552.4 269.4 1554.3 263.6 1556.3 257.2 C1558.2 250.8 1560.4 243.1 1562.0 236.1 C1563.6 229.0 1564.1 227.0 1565.9 215.0 C1567.7 202.9 1571.0 177.0 1572.8 163.6 C1574.6 150.3 1575.4 142.8 1576.7 134.8 C1577.9 126.8 1579.2 119.9 1580.5 115.6 C1581.8 111.3 1583.1 109.2 1584.3 108.9 C1585.6 108.6 1586.9 110.3 1588.2 113.7 C1589.5 117.1 1590.7 123.3 1592.0 129.1 C1593.3 134.8 1593.5 135.8 1595.9 148.3 C1598.3 160.8 1603.7 191.3 1606.5 204.2 C1609.2 217.0 1610.3 219.2 1612.2 225.3 C1614.1 231.4 1616.1 236.5 1618.0 240.7 C1619.9 244.8 1621.8 247.7 1623.7 250.3 C1625.7 252.8 1627.3 254.5 1629.5 256.0 C1631.7 257.6 1634.6 259.0 1637.2 259.5 C1639.7 260.0 1642.3 259.6 1644.9 258.9 C1647.4 258.2 1649.3 257.0 1652.5 255.1 C1655.7 253.1 1660.2 249.9 1664.1 247.4 C1667.9 244.8 1671.8 242.1 1675.6 239.7 C1679.4 237.3 1683.6 235.1 1687.1 233.0 C1690.6 230.9 1693.8 229.5 1696.7 227.2 C1699.6 225.0 1701.8 222.7 1704.4 219.5 C1707.0 216.3 1709.5 212.5 1712.1 208.0 C1714.6 203.5 1717.2 198.1 1719.8 192.6 C1722.3 187.2 1724.3 186.0 1727.4 175.4 C1730.6 164.8 1736.1 140.3 1738.9 129.1 C1741.8 117.8 1742.8 114.0 1744.7 107.9 C1746.6 101.9 1748.5 96.4 1750.5 92.6 C1752.4 88.7 1754.3 86.6 1756.2 84.9 C1758.1 83.2 1760.1 82.4 1762.0 82.6 C1763.9 82.8 1765.8 83.9 1767.7 85.9 C1769.7 87.8 1771.3 91.1 1773.5 94.5 C1775.7 97.9 1778.6 103.1 1781.2 106.0 C1783.7 108.9 1786.5 110.5 1788.9 111.8 C1791.3 113.1 1793.3 113.9 1795.6 113.7 C1797.8 113.5 1799.9 113.1 1802.3 110.8 C1804.7 108.6 1807.8 103.9 1810.0 100.3 C1812.2 96.6 1814.1 92.3 1815.8 88.7 C1817.4 85.2 1816.8 86.0 1820.0 79.1 C1823.2 72.3 1831.5 53.7 1835.0 47.4 C1838.5 41.2 1838.8 42.8 1840.8 41.7 C1842.7 40.6 1844.6 40.4 1846.5 40.7 C1848.4 41.0 1850.0 41.7 1852.3 43.6 C1854.5 45.5 1857.4 49.5 1860.0 52.3 C1862.5 55.0 1865.1 57.9 1867.6 59.9 C1870.2 61.9 1872.8 63.3 1875.3 64.2 C1877.9 65.0 1880.5 65.5 1883.0 65.1 C1885.6 64.7 1888.1 63.5 1890.7 61.9 C1893.3 60.2 1895.8 57.9 1898.4 55.1 C1900.9 52.4 1903.5 48.2 1906.1 45.5 C1908.6 42.8 1911.2 40.4 1913.7 38.8 C1916.3 37.2 1919.2 36.5 1921.4 35.9 C1923.7 35.4 1924.9 35.1 1927.2 35.5 C1929.4 36.0 1932.3 37.3 1934.9 38.8 C1937.4 40.3 1939.7 42.5 1942.5 44.6 C1945.4 46.6 1948.9 49.5 1952.1 51.3 C1955.4 53.1 1958.6 54.3 1961.8 55.1 C1965.0 56.0 1967.8 56.5 1971.4 56.5 C1974.9 56.5 1979.0 55.8 1982.9 55.1 C1986.7 54.5 1990.6 53.4 1994.4 52.6 C1998.2 51.8 2002.1 51.1 2005.9 50.3 C2009.8 49.6 2013.9 48.7 2017.4 48.0 C2021.0 47.4 2023.8 46.7 2027.0 46.5 C2030.2 46.2 2033.8 46.0 2036.7 46.5 C2039.5 47.0 2041.8 47.8 2044.3 49.4 C2046.9 51.0 2049.5 53.1 2052.0 56.1 C2054.6 59.1 2057.1 63.1 2059.7 67.6 C2062.3 72.1 2064.8 78.0 2067.4 83.0 C2069.9 87.9 2072.5 92.7 2075.1 97.4 C2077.6 102.0 2080.2 106.8 2082.7 110.8 C2085.3 114.8 2087.9 118.3 2090.4 121.4 C2093.0 124.4 2095.5 127.1 2098.1 129.1 C2100.7 131.0 2103.2 132.0 2105.8 132.9 C2108.3 133.8 2110.9 134.4 2113.5 134.4 C2116.0 134.4 2118.6 133.6 2121.2 132.9 C2123.7 132.2 2127.6 130.5 2128.8 130.0" stroke="#d4475d" stroke-width="3.1"/>
<path d="M1251.7 45.5 C1255.4 45.5 1266.9 45.3 1273.8 45.1 C1280.7 45.0 1286.6 44.7 1293.0 44.6 C1299.4 44.5 1306.8 44.4 1312.2 44.6 C1317.7 44.7 1320.9 44.9 1325.7 45.5 C1330.5 46.2 1335.9 47.2 1341.0 48.4 C1346.1 49.6 1351.3 51.2 1356.4 52.6 C1361.5 54.1 1367.3 55.8 1371.8 57.1 C1376.2 58.3 1379.8 59.0 1383.3 60.3 C1386.8 61.6 1390.0 62.9 1392.9 64.7 C1395.8 66.6 1398.3 69.1 1400.6 71.5 C1402.8 73.9 1404.4 76.3 1406.3 79.1 C1408.2 82.0 1410.2 84.6 1412.1 88.7 C1414.0 92.9 1416.1 99.0 1417.8 104.1 C1419.6 109.2 1421.2 114.3 1422.6 119.5 C1424.1 124.6 1425.2 129.4 1426.5 134.8 C1427.8 140.3 1429.0 146.4 1430.3 152.1 C1431.6 157.9 1432.9 163.6 1434.2 169.4 C1435.4 175.2 1437.2 183.3 1438.0 186.7 C1438.8 190.1 1437.8 186.2 1439.0 190.0 C1440.1 193.7 1442.9 202.8 1444.9 209.2 C1446.8 215.6 1448.7 222.3 1450.6 228.4 C1452.5 234.5 1454.1 239.6 1456.4 245.7 C1458.6 251.8 1461.5 259.1 1464.1 264.9 C1466.6 270.7 1469.2 275.5 1471.8 280.3 C1474.3 285.1 1476.9 289.9 1479.4 293.7 C1482.0 297.5 1484.6 300.6 1487.1 303.3 C1489.7 306.0 1492.2 308.1 1494.8 310.0 C1497.4 312.0 1499.9 313.6 1502.5 314.8 C1505.0 316.0 1507.6 316.8 1510.2 317.1 C1512.7 317.5 1515.3 317.5 1517.8 317.1 C1520.4 316.8 1523.0 315.9 1525.5 314.8 C1528.1 313.7 1530.6 312.5 1533.2 310.6 C1535.8 308.7 1538.3 306.4 1540.9 303.3 C1543.5 300.2 1546.0 296.3 1548.6 291.8 C1551.1 287.3 1554.0 281.5 1556.3 276.4 C1558.5 271.3 1560.1 266.8 1562.0 261.1 C1563.9 255.3 1566.0 248.6 1567.8 241.9 C1569.5 235.1 1570.0 238.9 1572.6 220.7 C1575.2 202.6 1580.9 153.3 1583.4 132.9 C1585.8 112.5 1585.9 109.5 1587.2 98.3 C1588.5 87.1 1589.9 74.5 1591.1 65.7 C1592.2 56.9 1593.1 49.7 1593.9 45.5 C1594.7 41.4 1595.1 41.0 1595.9 40.7 C1596.7 40.4 1597.6 40.4 1598.7 43.6 C1599.9 46.8 1601.3 52.7 1602.6 59.9 C1603.9 67.1 1605.1 77.2 1606.4 86.8 C1607.7 96.4 1609.0 107.3 1610.3 117.5 C1611.5 127.8 1612.8 138.7 1614.1 148.3 C1615.4 157.9 1617.0 168.2 1617.9 175.2 C1618.9 182.1 1618.6 183.5 1619.9 190.0 C1621.2 196.4 1623.7 206.0 1625.7 213.8 C1627.6 221.6 1629.5 230.1 1631.4 236.8 C1633.3 243.5 1634.9 249.0 1637.2 254.1 C1639.4 259.2 1642.3 263.9 1644.9 267.5 C1647.4 271.2 1650.0 274.1 1652.5 276.2 C1655.1 278.3 1658.3 279.3 1660.2 280.0 C1662.1 280.8 1662.1 280.9 1664.1 280.6 C1666.0 280.3 1669.2 279.6 1671.8 278.1 C1674.3 276.6 1676.9 274.4 1679.4 271.4 C1682.0 268.3 1684.6 264.3 1687.1 259.9 C1689.7 255.4 1692.2 250.3 1694.8 244.5 C1697.4 238.7 1699.9 232.0 1702.5 225.3 C1705.0 218.6 1707.6 211.2 1710.2 204.2 C1712.7 197.1 1714.6 193.3 1717.8 183.0 C1721.0 172.8 1726.1 154.1 1729.3 142.5 C1732.5 131.0 1734.5 122.7 1737.0 113.7 C1739.6 104.7 1742.1 95.5 1744.7 88.7 C1747.3 82.0 1749.8 76.9 1752.4 73.4 C1754.9 69.9 1757.5 68.6 1760.1 67.6 C1762.6 66.7 1765.2 67.3 1767.7 67.6 C1770.3 67.9 1772.5 68.6 1775.4 69.5 C1778.3 70.4 1781.8 72.2 1785.0 73.0 C1788.2 73.8 1791.4 74.3 1794.6 74.3 C1797.8 74.3 1801.0 74.0 1804.2 73.0 C1807.4 72.0 1811.2 70.0 1813.8 68.6 C1816.5 67.2 1816.5 66.8 1820.0 64.7 C1823.5 62.7 1831.2 58.8 1835.0 56.1 C1838.8 53.4 1839.8 51.0 1842.7 48.4 C1845.6 45.8 1849.1 42.5 1852.3 40.7 C1855.5 39.0 1858.7 38.5 1861.9 37.8 C1865.1 37.2 1868.3 36.9 1871.5 36.9 C1874.7 36.9 1877.9 37.2 1881.1 37.8 C1884.3 38.5 1887.5 39.6 1890.7 40.7 C1893.9 41.8 1897.1 43.4 1900.3 44.6 C1903.5 45.7 1906.7 46.6 1909.9 47.4 C1913.1 48.3 1916.3 49.3 1919.5 49.8 C1922.7 50.2 1925.9 50.4 1929.1 50.3 C1932.3 50.3 1935.5 50.0 1938.7 49.4 C1941.9 48.7 1945.1 47.5 1948.3 46.5 C1951.5 45.4 1954.7 44.2 1957.9 43.0 C1961.1 41.9 1964.3 40.7 1967.5 39.8 C1970.7 38.8 1973.9 37.9 1977.1 37.3 C1980.3 36.6 1983.5 36.2 1986.7 35.9 C1989.9 35.6 1993.4 35.3 1996.3 35.4 C1999.2 35.4 2001.4 35.9 2004.0 36.5 C2006.6 37.1 2009.1 37.8 2011.7 38.8 C2014.2 39.8 2016.8 41.2 2019.4 42.6 C2021.9 44.1 2024.5 45.5 2027.0 47.4 C2029.6 49.4 2032.2 51.9 2034.7 54.2 C2037.3 56.4 2039.9 58.5 2042.4 60.9 C2045.0 63.3 2047.5 65.9 2050.1 68.6 C2052.7 71.3 2055.2 74.3 2057.8 77.2 C2060.3 80.1 2062.9 83.1 2065.5 85.9 C2068.0 88.6 2070.6 91.1 2073.1 93.5 C2075.7 95.9 2078.3 98.3 2080.8 100.3 C2083.4 102.2 2085.9 103.8 2088.5 105.1 C2091.1 106.3 2093.6 107.2 2096.2 107.9 C2098.7 108.6 2101.3 109.1 2103.9 109.3 C2106.4 109.5 2109.0 109.5 2111.6 109.3 C2114.1 109.1 2116.4 108.6 2119.2 107.9 C2122.1 107.2 2127.2 105.5 2128.8 105.1" stroke="#6675c4" stroke-width="5"/>
<path d="M1251.7 65.7 C1253.8 65.1 1259.9 63.6 1264.2 61.9 C1268.5 60.1 1273.2 57.5 1277.6 55.1 C1282.1 52.7 1286.6 49.9 1291.1 47.4 C1295.6 45.0 1300.1 42.6 1304.5 40.7 C1309.0 38.9 1314.1 37.5 1318.0 36.5 C1321.8 35.5 1324.5 35.2 1327.6 35.0 C1330.6 34.8 1333.3 34.7 1336.2 35.4 C1339.1 36.0 1341.8 37.0 1344.9 38.8 C1347.9 40.7 1351.3 43.3 1354.5 46.5 C1357.7 49.7 1360.9 53.5 1364.1 58.0 C1367.3 62.5 1370.5 68.3 1373.7 73.4 C1376.9 78.5 1380.1 83.9 1383.3 88.7 C1386.5 93.5 1389.7 98.3 1392.9 102.2 C1396.1 106.0 1399.3 109.2 1402.5 111.8 C1405.7 114.4 1409.2 116.2 1412.1 117.9 C1415.0 119.7 1417.5 120.5 1419.8 122.3 C1422.0 124.2 1423.6 126.3 1425.5 129.1 C1427.4 131.8 1429.4 134.8 1431.3 138.7 C1433.2 142.5 1435.1 146.7 1437.0 152.1 C1439.0 157.6 1441.1 165.0 1442.8 171.3 C1444.6 177.6 1446.0 184.0 1447.6 190.0 C1449.2 195.9 1450.8 200.9 1452.5 207.3 C1454.3 213.7 1456.4 221.7 1458.3 228.4 C1460.2 235.1 1461.8 240.9 1464.1 247.6 C1466.3 254.3 1469.2 262.3 1471.8 268.7 C1474.3 275.1 1476.9 280.9 1479.4 286.0 C1482.0 291.1 1484.6 295.8 1487.1 299.5 C1489.7 303.1 1492.2 305.7 1494.8 308.1 C1497.4 310.5 1499.9 312.4 1502.5 313.9 C1505.0 315.3 1507.6 316.2 1510.2 316.8 C1512.7 317.3 1515.3 317.3 1517.8 317.1 C1520.4 317.0 1523.0 316.8 1525.5 315.8 C1528.1 314.8 1530.6 313.3 1533.2 311.4 C1535.8 309.5 1538.3 307.5 1540.9 304.3 C1543.5 301.0 1546.0 296.7 1548.6 291.8 C1551.1 286.8 1554.0 280.3 1556.3 274.5 C1558.5 268.7 1560.1 263.9 1562.0 257.2 C1563.9 250.5 1565.2 249.8 1567.8 234.2 C1570.4 218.6 1575.3 181.2 1577.6 163.6 C1579.9 146.1 1580.2 140.9 1581.5 129.1 C1582.7 117.2 1584.0 104.4 1585.3 92.6 C1586.6 80.7 1588.0 66.7 1589.1 58.0 C1590.3 49.4 1591.2 44.2 1592.0 40.7 C1592.8 37.2 1593.1 37.2 1593.9 36.9 C1594.7 36.6 1595.7 36.2 1596.8 38.8 C1597.9 41.4 1599.4 45.5 1600.7 52.3 C1601.9 59.0 1603.2 69.5 1604.5 79.1 C1605.8 88.7 1607.1 99.6 1608.3 109.9 C1609.6 120.1 1609.9 124.6 1612.2 140.6 C1614.4 156.6 1619.3 191.7 1621.8 206.1 C1624.4 220.5 1625.7 220.8 1627.6 227.2 C1629.5 233.6 1631.4 239.7 1633.3 244.5 C1635.3 249.3 1637.2 252.8 1639.1 256.0 C1641.0 259.2 1642.6 261.8 1644.9 263.7 C1647.1 265.6 1650.0 266.7 1652.5 267.5 C1655.1 268.3 1657.7 268.7 1660.2 268.5 C1662.8 268.3 1665.4 268.0 1667.9 266.6 C1670.5 265.1 1673.0 262.6 1675.6 259.9 C1678.2 257.1 1680.7 253.8 1683.3 250.3 C1685.8 246.7 1688.4 243.2 1691.0 238.7 C1693.5 234.3 1696.1 228.8 1698.6 223.4 C1701.2 217.9 1703.8 212.2 1706.3 206.1 C1708.9 200.0 1711.4 193.3 1714.0 186.9 C1716.6 180.5 1719.5 174.8 1721.7 167.7 C1723.9 160.6 1725.2 152.8 1727.4 144.4 C1729.6 136.1 1732.5 126.2 1735.1 117.5 C1737.7 108.9 1740.2 99.6 1742.8 92.6 C1745.3 85.5 1747.9 79.6 1750.5 75.3 C1753.0 71.0 1755.6 68.5 1758.1 66.7 C1760.7 64.8 1763.3 64.6 1765.8 64.2 C1768.4 63.7 1770.6 63.7 1773.5 64.2 C1776.4 64.6 1779.9 66.1 1783.1 66.7 C1786.3 67.2 1789.5 67.6 1792.7 67.6 C1795.9 67.6 1799.1 67.5 1802.3 66.7 C1805.5 65.9 1809.0 64.3 1811.9 62.8 C1814.9 61.4 1816.1 59.9 1820.0 58.0 C1823.8 56.1 1831.2 53.2 1835.0 51.3 C1838.8 49.4 1839.8 47.9 1842.7 46.5 C1845.6 45.0 1849.1 43.7 1852.3 42.6 C1855.5 41.6 1858.7 41.0 1861.9 40.3 C1865.1 39.7 1868.3 39.1 1871.5 38.8 C1874.7 38.5 1877.9 38.4 1881.1 38.4 C1884.3 38.4 1887.5 38.6 1890.7 38.8 C1893.9 39.0 1897.1 39.3 1900.3 39.8 C1903.5 40.2 1906.7 41.0 1909.9 41.7 C1913.1 42.4 1916.3 43.4 1919.5 44.2 C1922.7 45.0 1925.9 45.9 1929.1 46.5 C1932.3 47.1 1935.5 47.6 1938.7 47.8 C1941.9 48.1 1945.1 48.1 1948.3 47.8 C1951.5 47.6 1954.7 47.0 1957.9 46.5 C1961.1 45.9 1964.3 45.4 1967.5 44.6 C1970.7 43.8 1973.9 42.6 1977.1 41.7 C1980.3 40.8 1983.5 40.0 1986.7 39.4 C1989.9 38.7 1993.4 38.2 1996.3 37.8 C1999.2 37.5 2001.4 37.2 2004.0 37.3 C2006.6 37.4 2009.1 37.8 2011.7 38.4 C2014.2 39.1 2016.8 39.9 2019.4 41.1 C2021.9 42.3 2024.5 43.7 2027.0 45.5 C2029.6 47.4 2032.2 49.7 2034.7 52.3 C2037.3 54.8 2039.9 57.9 2042.4 60.9 C2045.0 63.9 2047.5 67.1 2050.1 70.5 C2052.7 73.9 2055.2 77.5 2057.8 81.1 C2060.3 84.6 2062.9 88.3 2065.5 91.6 C2068.0 95.0 2070.6 98.2 2073.1 101.2 C2075.7 104.3 2078.3 107.3 2080.8 109.9 C2083.4 112.4 2085.9 114.7 2088.5 116.6 C2091.1 118.5 2093.6 120.2 2096.2 121.4 C2098.7 122.6 2101.3 123.3 2103.9 123.9 C2106.4 124.4 2109.0 124.7 2111.6 124.7 C2114.1 124.6 2116.4 124.1 2119.2 123.3 C2122.1 122.5 2127.2 120.4 2128.8 119.9" stroke="#55b95a" stroke-width="3.2"/>
<path d="M1251.7 77.2 L1253.8 76.4 L1256.8 76.7 L1258.4 77.9 L1260.0 78.8 L1262.2 82.3 L1264.0 84.5 L1265.9 85.7 L1267.9 87.7 L1269.7 89.0 L1272.1 91.3 L1273.6 93.9 L1275.5 95.7 L1277.4 97.2 L1279.8 98.1 L1281.3 100.1 L1283.6 102.9 L1285.6 103.6 L1287.4 105.7 L1289.4 107.0 L1291.4 109.4 L1292.9 111.4 L1294.7 112.4 L1296.6 113.8 L1298.8 115.7 L1300.8 117.0 L1302.5 119.2 L1304.5 121.6 L1306.4 122.6 L1308.1 124.9 L1310.0 127.0 L1312.4 128.5 L1314.3 129.3 L1316.1 131.7 L1317.7 133.1 L1320.2 135.3 L1322.0 137.3 L1324.0 140.2 L1325.6 141.3 L1327.7 143.5 L1329.6 144.8 L1331.6 147.7 L1333.6 148.6 L1335.2 150.6 L1337.4 153.3 L1339.3 154.8 L1340.9 157.0 L1342.8 158.5 L1344.7 159.9 L1347.1 162.4 L1348.5 163.4 L1350.6 166.2 L1352.4 167.2 L1354.7 169.2 L1356.3 170.8 L1358.5 172.0 L1360.2 173.5 L1362.5 176.5 L1365.4 178.0 L1367.7 179.5 L1369.8 180.4 L1372.2 182.2 L1374.1 184.3 L1376.2 187.0 L1377.5 188.3 L1379.6 189.9 L1383.3 190.9 L1384.3 192.6 L1386.0 195.0 L1387.0 198.6 L1388.0 200.8 L1389.0 202.9 L1390.2 206.3 L1390.9 208.1 L1391.5 211.0 L1392.3 213.1 L1393.1 214.8 L1394.1 216.9 L1395.4 219.5 L1397.0 220.8 L1398.8 223.8 L1400.1 224.4 L1401.7 226.5 L1403.4 228.5 L1405.2 230.7 L1406.9 232.1 L1408.9 234.6 L1410.7 236.0 L1412.3 238.5 L1414.1 240.5 L1415.5 241.6 L1417.4 242.9 L1418.8 245.7 L1420.6 247.1 L1422.0 249.0 L1423.9 250.9 L1425.6 252.6 L1427.4 254.3 L1429.1 256.1 L1430.4 257.1 L1432.4 259.5 L1434.2 261.1 L1435.6 263.5 L1437.4 265.1 L1439.1 266.3 L1440.8 268.5 L1442.5 270.1 L1444.4 272.2 L1446.2 274.2 L1448.1 275.4 L1449.5 276.8 L1451.2 278.9 L1453.2 280.4 L1454.4 282.4 L1456.2 284.3 L1458.2 285.9 L1460.5 287.6 L1462.1 289.6 L1464.2 291.1 L1465.8 292.1 L1467.9 293.9 L1470.1 295.8 L1471.7 296.7 L1473.7 298.7 L1476.2 299.1 L1478.1 301.2 L1480.8 302.6 L1482.7 303.6 L1484.8 304.6 L1487.0 306.9 L1489.9 308.2 L1492.1 308.9 L1494.8 310.6 L1497.3 310.8 L1499.9 312.6 L1502.5 312.6 L1505.1 313.3 L1507.5 314.5 L1510.3 315.7 L1512.7 315.3 L1515.5 316.3 L1517.7 317.5 L1520.2 317.3 L1522.8 318.7 L1525.5 318.5 L1528.1 318.8 L1530.4 319.2 L1533.1 319.4 L1535.7 319.2 L1538.3 319.0 L1540.8 319.2 L1543.5 319.6 L1545.9 318.5 L1548.8 319.0 L1551.2 319.5 L1553.8 318.0 L1556.3 318.4 L1558.9 318.5 L1561.6 317.9 L1563.9 317.6 L1566.3 318.0 L1569.2 317.0 L1571.8 316.4 L1574.1 317.0 L1576.9 316.2 L1579.1 316.9 L1581.8 316.2 L1584.2 316.1 L1586.8 315.6 L1589.0 316.4 L1592.1 315.5 L1594.8 316.2 L1597.0 315.0 L1599.6 316.2 L1601.5 315.7 L1604.1 315.8 L1607.0 315.4 L1609.0 315.4 L1611.9 314.7 L1613.9 314.3 L1616.6 314.6 L1619.3 314.7 L1622.2 313.9 L1624.6 313.7 L1627.3 314.2 L1629.0 314.4 L1631.7 313.3 L1633.5 312.9 L1636.8 312.6 L1639.0 311.0 L1641.3 310.7 L1644.1 310.8 L1646.7 310.4 L1649.6 309.5 L1652.6 309.0 L1655.1 308.9 L1657.8 308.0 L1660.0 308.2 L1663.3 307.4 L1666.0 305.8 L1668.2 305.1 L1670.6 305.0 L1673.1 304.5 L1675.8 302.8 L1678.3 301.4 L1680.5 300.4 L1683.4 300.6 L1685.6 298.4 L1688.5 298.3 L1690.8 296.8 L1693.1 295.4 L1695.3 293.7 L1697.5 293.0 L1699.5 291.4 L1702.0 290.8 L1704.1 289.4 L1706.3 288.2 L1708.6 286.5 L1710.7 285.4 L1712.6 283.1 L1714.8 281.9 L1717.3 281.4 L1719.2 279.9 L1721.9 278.1 L1723.8 276.9 L1725.9 275.3 L1728.1 273.5 L1730.4 272.4 L1732.5 271.8 L1734.7 269.5 L1736.9 268.0 L1739.3 266.7 L1741.8 265.1 L1744.1 264.1 L1746.2 263.1 L1748.6 261.5 L1750.5 259.6 L1752.5 258.6 L1753.4 258.4 L1753.0 257.7 L1753.2 257.5 L1756.6 255.9 L1763.8 251.0 L1765.0 250.4 L1766.6 250.0 L1767.8 248.3 L1769.7 248.0 L1771.1 247.0 L1772.5 246.4 L1774.8 244.0 L1776.3 243.3 L1778.8 242.2 L1780.4 240.9 L1782.4 239.0 L1784.8 238.8 L1786.7 237.5 L1789.0 235.1 L1791.3 233.9 L1793.9 232.2 L1796.1 230.8 L1799.0 229.0 L1801.2 227.6 L1803.7 226.4 L1806.1 224.4 L1808.7 222.9 L1811.2 222.5 L1813.5 220.8 L1816.2 218.1 L1818.7 217.2 L1821.3 215.5 L1823.9 214.5 L1826.1 212.4 L1828.4 211.6 L1830.8 209.2 L1833.5 207.7 L1835.5 207.3 L1837.7 204.9 L1839.9 203.7 L1842.3 202.6 L1844.2 201.1 L1846.2 200.5 L1848.3 198.6 L1850.1 197.6 L1852.0 196.6 L1853.9 196.0 L1855.6 195.2 L1857.1 194.1 L1858.7 192.8 L1860.1 192.3 L1865.3 189.2 L1869.4 186.2 L1872.1 184.7 L1874.4 183.0 L1876.3 182.5 L1877.3 182.0 L1878.7 182.2 L1879.5 180.7 L1881.1 180.3 L1883.3 180.5 L1885.5 178.9 L1888.0 177.5 L1890.2 176.3 L1893.0 175.6 L1895.0 174.8 L1897.3 173.5 L1899.8 172.7 L1902.4 171.9 L1904.5 169.6 L1907.0 169.6 L1909.4 167.8 L1912.1 167.1 L1914.5 165.5 L1916.4 164.4 L1919.0 163.5 L1921.7 161.1 L1923.6 159.9 L1925.9 159.3 L1927.7 157.9 L1929.8 156.4 L1932.0 155.5 L1934.1 154.5 L1936.2 152.6 L1938.7 152.2 L1940.7 150.7 L1942.6 148.8 L1944.9 148.1 L1946.8 145.7 L1949.3 144.5 L1951.1 144.4 L1953.3 142.9 L1955.8 141.5 L1957.9 140.1 L1959.6 138.5 L1962.0 137.4 L1964.0 135.7 L1966.0 134.6 L1968.3 133.3 L1970.6 132.3 L1972.9 130.9 L1975.0 130.2 L1977.0 128.7 L1979.2 127.2 L1981.2 125.6 L1983.3 124.6 L1985.2 122.7 L1987.5 120.9 L1989.9 120.2 L1991.7 119.0 L1993.8 117.9 L1995.9 116.2 L1998.3 115.0 L2000.9 114.0 L2003.2 112.3 L2005.5 111.1 L2007.9 109.2 L2010.1 109.0 L2012.7 108.0 L2014.8 106.0 L2017.3 104.9 L2020.1 104.2 L2022.3 103.4 L2024.4 101.6 L2027.1 100.9 L2029.4 99.9 L2031.7 99.1 L2034.1 97.2 L2036.9 96.6 L2039.1 94.9 L2041.3 94.7 L2043.9 92.6 L2046.5 92.6 L2048.6 91.4 L2051.1 89.9 L2053.3 89.5 L2055.9 87.5 L2058.1 87.3 L2060.4 84.7 L2063.1 84.2 L2065.3 82.4 L2067.9 81.7 L2070.4 80.7 L2072.7 78.6 L2075.3 78.6 L2077.7 77.0 L2080.1 76.5 L2082.4 75.1 L2084.7 75.2 L2086.9 73.4 L2089.2 72.7 L2091.9 71.8 L2094.4 70.9 L2096.9 70.8 L2099.3 69.9 L2101.9 69.1 L2104.4 67.6 L2106.3 65.9 L2108.8 64.9 L2111.2 64.4 L2113.6 64.0 L2116.4 62.2 L2119.4 62.0 L2122.4 60.6 L2125.1 60.3 L2127.5 60.0 L2128.8 59.5" stroke="#000" stroke-width="3.5"/>
</g>
<rect x="1251.6" y="15.7" width="877.8" height="351.7" fill="none" stroke="#000" stroke-width="2.1"/>
<rect x="1773.3" y="192" width="280.4" height="144.2" fill="#fff" stroke="#222" stroke-width="1"/>
<path d="M1777.4 212.0 H1842.5" stroke="#d4475d" stroke-width="2.8" stroke-linecap="round"/>
<path d="M1777.4 247.1 H1842.5" stroke="#6675c4" stroke-width="4.8" stroke-linecap="round"/>
<path d="M1777.4 281.9 H1842.5" stroke="#55b95a" stroke-width="3" stroke-linecap="round"/>
<path d="M1777.4 317.0 H1842.5" stroke="#000" stroke-width="3.2" stroke-linecap="round"/>
<text x="1850.9" y="221.0" font-size="27.6" text-anchor="start" font-family='"Liberation Sans", sans-serif' fill="#000" >n=1</text>
<text x="1850.9" y="256.0" font-size="27.6" text-anchor="start" font-family='"Liberation Sans", sans-serif' fill="#000" >n=2</text>
<text x="1850.9" y="290.9" font-size="27.6" text-anchor="start" font-family='"Liberation Sans", sans-serif' fill="#000" >n=3</text>
<text x="1850.9" y="326.0" font-size="27.6" text-anchor="start" font-family='"Liberation Sans", sans-serif' fill="#000" >Real Frequency</text>
<text x="1447.2" y="409.5" font-size="36" text-anchor="middle" font-family='"Liberation Sans", sans-serif' fill="#000" textLength="76.5" lengthAdjust="spacingAndGlyphs">2500</text>
<text x="1674.6" y="409.5" font-size="36" text-anchor="middle" font-family='"Liberation Sans", sans-serif' fill="#000" textLength="76.5" lengthAdjust="spacingAndGlyphs">3000</text>
<text x="1902.0" y="409.5" font-size="36" text-anchor="middle" font-family='"Liberation Sans", sans-serif' fill="#000" textLength="76.5" lengthAdjust="spacingAndGlyphs">3500</text>
<text x="2129.4" y="409.5" font-size="36" text-anchor="middle" font-family='"Liberation Sans", sans-serif' fill="#000" textLength="76.5" lengthAdjust="spacingAndGlyphs">4000</text>
<text x="1236.0" y="359.6" font-size="36" text-anchor="end" font-family='"Liberation Sans", sans-serif' fill="#000" textLength="47.8" lengthAdjust="spacingAndGlyphs">0.2</text>
<text x="1236.0" y="281.4" font-size="36" text-anchor="end" font-family='"Liberation Sans", sans-serif' fill="#000" textLength="47.8" lengthAdjust="spacingAndGlyphs">0.4</text>
<text x="1236.0" y="203.2" font-size="36" text-anchor="end" font-family='"Liberation Sans", sans-serif' fill="#000" textLength="47.8" lengthAdjust="spacingAndGlyphs">0.6</text>
<text x="1236.0" y="125.0" font-size="36" text-anchor="end" font-family='"Liberation Sans", sans-serif' fill="#000" textLength="47.8" lengthAdjust="spacingAndGlyphs">0.8</text>
<text x="1236.0" y="46.8" font-size="36" text-anchor="end" font-family='"Liberation Sans", sans-serif' fill="#000" textLength="47.8" lengthAdjust="spacingAndGlyphs">1.0</text>
<text x="0.0" y="0.0" font-size="40.6" text-anchor="middle" font-family='"Liberation Sans", sans-serif' fill="#000" transform="translate(1151 190) rotate(-90)">Transmittance</text>
<text x="1620.0" y="462.5" font-size="41" text-anchor="start" font-family='"Liberation Sans", sans-serif' fill="#000" ><tspan font-family='"Liberation Serif", serif' font-size="40">ω</tspan> / cm<tspan dy="-17" font-size="26">-1</tspan></text>
<text x="1054.6" y="41.5" font-size="57.5" text-anchor="start" font-family='"Liberation Serif", serif' fill="#000" >(b)</text>
</g>
<g id="panel-c">
<clipPath id="hc1"><rect x="150.2" y="480.2" width="633.4" height="345.4"/></clipPath>
<g clip-path="url(#hc1)"><g filter="url(#bone)">
<rect x="90.2" y="420.2" width="753.4" height="465.4" fill="#1f1f1f"/>
<g filter="url(#b16)">
<rect x="79.9" y="409.9" width="110.2" height="109.0" fill="#a6a6a6"/>
<rect x="189.5" y="409.9" width="40.2" height="109.0" fill="#cccccc"/>
<rect x="229.1" y="409.9" width="40.2" height="109.0" fill="#e6e6e6"/>
<rect x="268.7" y="409.9" width="40.2" height="109.0" fill="#8c8c8c"/>
<rect x="308.2" y="409.9" width="40.2" height="109.0" fill="#a6a6a6"/>
<rect x="347.8" y="409.9" width="40.2" height="109.0" fill="#bfbfbf"/>
<rect x="387.4" y="409.9" width="40.2" height="109.0" fill="#8c8c8c"/>
<rect x="427.0" y="409.9" width="40.2" height="109.0" fill="#8c8c8c"/>
<rect x="466.6" y="409.9" width="40.2" height="109.0" fill="#383838"/>
<rect x="506.2" y="409.9" width="40.2" height="109.0" fill="#333333"/>
<rect x="545.8" y="409.9" width="40.2" height="109.0" fill="#333333"/>
<rect x="585.4" y="409.9" width="40.2" height="109.0" fill="#383838"/>
<rect x="625.0" y="409.9" width="40.2" height="109.0" fill="#404040"/>
<rect x="664.5" y="409.9" width="40.2" height="109.0" fill="#4c4c4c"/>
<rect x="704.1" y="409.9" width="40.2" height="109.0" fill="#666666"/>
<rect x="743.7" y="409.9" width="110.2" height="109.0" fill="#b2b2b2"/>
<rect x="79.9" y="518.3" width="110.2" height="39.0" fill="#f2f2f2"/>
<rect x="189.5" y="518.3" width="40.2" height="39.0" fill="#f7f7f7"/>
<rect x="229.1" y="518.3" width="40.2" height="39.0" fill="#ffffff"/>
<rect x="268.7" y="518.3" width="40.2" height="39.0" fill="#8c8c8c"/>
<rect x="308.2" y="518.3" width="40.2" height="39.0" fill="#bfbfbf"/>
<rect x="347.8" y="518.3" width="40.2" height="39.0" fill="#e6e6e6"/>
<rect x="387.4" y="518.3" width="40.2" height="39.0" fill="#9e9e9e"/>
<rect x="427.0" y="518.3" width="40.2" height="39.0" fill="#a6a6a6"/>
<rect x="466.6" y="518.3" width="40.2" height="39.0" fill="#383838"/>
<rect x="506.2" y="518.3" width="40.2" height="39.0" fill="#383838"/>
<rect x="545.8" y="518.3" width="40.2" height="39.0" fill="#383838"/>
<rect x="585.4" y="518.3" width="40.2" height="39.0" fill="#404040"/>
<rect x="625.0" y="518.3" width="40.2" height="39.0" fill="#474747"/>
<rect x="664.5" y="518.3" width="40.2" height="39.0" fill="#525252"/>
<rect x="704.1" y="518.3" width="40.2" height="39.0" fill="#6b6b6b"/>
<rect x="743.7" y="518.3" width="110.2" height="39.0" fill="#9e9e9e"/>
<rect x="79.9" y="556.7" width="110.2" height="39.0" fill="#808080"/>
<rect x="189.5" y="556.7" width="40.2" height="39.0" fill="#8c8c8c"/>
<rect x="229.1" y="556.7" width="40.2" height="39.0" fill="#a6a6a6"/>
<rect x="268.7" y="556.7" width="40.2" height="39.0" fill="#595959"/>
<rect x="308.2" y="556.7" width="40.2" height="39.0" fill="#f2f2f2"/>
<rect x="347.8" y="556.7" width="40.2" height="39.0" fill="#999999"/>
<rect x="387.4" y="556.7" width="40.2" height="39.0" fill="#737373"/>
<rect x="427.0" y="556.7" width="40.2" height="39.0" fill="#8c8c8c"/>
<rect x="466.6" y="556.7" width="40.2" height="39.0" fill="#404040"/>
<rect x="506.2" y="556.7" width="40.2" height="39.0" fill="#333333"/>
<rect x="545.8" y="556.7" width="40.2" height="39.0" fill="#333333"/>
<rect x="585.4" y="556.7" width="40.2" height="39.0" fill="#333333"/>
<rect x="625.0" y="556.7" width="40.2" height="39.0" fill="#383838"/>
<rect x="664.5" y="556.7" width="40.2" height="39.0" fill="#404040"/>
<rect x="704.1" y="556.7" width="40.2" height="39.0" fill="#525252"/>
<rect x="743.7" y="556.7" width="110.2" height="39.0" fill="#666666"/>
<rect x="79.9" y="595.0" width="110.2" height="39.0" fill="#333333"/>
<rect x="189.5" y="595.0" width="40.2" height="39.0" fill="#404040"/>
<rect x="229.1" y="595.0" width="40.2" height="39.0" fill="#595959"/>
<rect x="268.7" y="595.0" width="40.2" height="39.0" fill="#474747"/>
<rect x="308.2" y="595.0" width="40.2" height="39.0" fill="#f2f2f2"/>
<rect x="347.8" y="595.0" width="40.2" height="39.0" fill="#808080"/>
<rect x="387.4" y="595.0" width="40.2" height="39.0" fill="#808080"/>
<rect x="427.0" y="595.0" width="40.2" height="39.0" fill="#999999"/>
<rect x="466.6" y="595.0" width="40.2" height="39.0" fill="#525252"/>
<rect x="506.2" y="595.0" width="40.2" height="39.0" fill="#292929"/>
<rect x="545.8" y="595.0" width="40.2" height="39.0" fill="#1f1f1f"/>
<rect x="585.4" y="595.0" width="40.2" height="39.0" fill="#1c1c1c"/>
<rect x="625.0" y="595.0" width="40.2" height="39.0" fill="#1a1a1a"/>
<rect x="664.5" y="595.0" width="40.2" height="39.0" fill="#1a1a1a"/>
<rect x="704.1" y="595.0" width="40.2" height="39.0" fill="#1f1f1f"/>
<rect x="743.7" y="595.0" width="110.2" height="39.0" fill="#292929"/>
<rect x="79.9" y="633.4" width="110.2" height="39.0" fill="#080808"/>
<rect x="189.5" y="633.4" width="40.2" height="39.0" fill="#080808"/>
<rect x="229.1" y="633.4" width="40.2" height="39.0" fill="#262626"/>
<rect x="268.7" y="633.4" width="40.2" height="39.0" fill="#737373"/>
<rect x="308.2" y="633.4" width="40.2" height="39.0" fill="#ffffff"/>
<rect x="347.8" y="633.4" width="40.2" height="39.0" fill="#cccccc"/>
<rect x="387.4" y="633.4" width="40.2" height="39.0" fill="#737373"/>
<rect x="427.0" y="633.4" width="40.2" height="39.0" fill="#cccccc"/>
<rect x="466.6" y="633.4" width="40.2" height="39.0" fill="#737373"/>
<rect x="506.2" y="633.4" width="40.2" height="39.0" fill="#404040"/>
<rect x="545.8" y="633.4" width="40.2" height="39.0" fill="#1f1f1f"/>
<rect x="585.4" y="633.4" width="40.2" height="39.0" fill="#1a1a1a"/>
<rect x="625.0" y="633.4" width="40.2" height="39.0" fill="#141414"/>
<rect x="664.5" y="633.4" width="40.2" height="39.0" fill="#0d0d0d"/>
<rect x="704.1" y="633.4" width="40.2" height="39.0" fill="#141414"/>
<rect x="743.7" y="633.4" width="110.2" height="39.0" fill="#1a1a1a"/>
<rect x="79.9" y="671.8" width="110.2" height="39.0" fill="#0d0d0d"/>
<rect x="189.5" y="671.8" width="40.2" height="39.0" fill="#0d0d0d"/>
<rect x="229.1" y="671.8" width="40.2" height="39.0" fill="#1f1f1f"/>
<rect x="268.7" y="671.8" width="40.2" height="39.0" fill="#999999"/>
<rect x="308.2" y="671.8" width="40.2" height="39.0" fill="#ffffff"/>
<rect x="347.8" y="671.8" width="40.2" height="39.0" fill="#cccccc"/>
<rect x="387.4" y="671.8" width="40.2" height="39.0" fill="#8c8c8c"/>
<rect x="427.0" y="671.8" width="40.2" height="39.0" fill="#cccccc"/>
<rect x="466.6" y="671.8" width="40.2" height="39.0" fill="#8c8c8c"/>
<rect x="506.2" y="671.8" width="40.2" height="39.0" fill="#404040"/>
<rect x="545.8" y="671.8" width="40.2" height="39.0" fill="#1f1f1f"/>
<rect x="585.4" y="671.8" width="40.2" height="39.0" fill="#1a1a1a"/>
<rect x="625.0" y="671.8" width="40.2" height="39.0" fill="#121212"/>
<rect x="664.5" y="671.8" width="40.2" height="39.0" fill="#121212"/>
<rect x="704.1" y="671.8" width="40.2" height="39.0" fill="#121212"/>
<rect x="743.7" y="671.8" width="110.2" height="39.0" fill="#1a1a1a"/>
<rect x="79.9" y="710.2" width="110.2" height="39.0" fill="#141414"/>
<rect x="189.5" y="710.2" width="40.2" height="39.0" fill="#141414"/>
<rect x="229.1" y="710.2" width="40.2" height="39.0" fill="#333333"/>
<rect x="268.7" y="710.2" width="40.2" height="39.0" fill="#bfbfbf"/>
<rect x="308.2" y="710.2" width="40.2" height="39.0" fill="#ffffff"/>
<rect x="347.8" y="710.2" width="40.2" height="39.0" fill="#f2f2f2"/>
<rect x="387.4" y="710.2" width="40.2" height="39.0" fill="#cccccc"/>
<rect x="427.0" y="710.2" width="40.2" height="39.0" fill="#cccccc"/>
<rect x="466.6" y="710.2" width="40.2" height="39.0" fill="#999999"/>
<rect x="506.2" y="710.2" width="40.2" height="39.0" fill="#4c4c4c"/>
<rect x="545.8" y="710.2" width="40.2" height="39.0" fill="#1f1f1f"/>
<rect x="585.4" y="710.2" width="40.2" height="39.0" fill="#141414"/>
<rect x="625.0" y="710.2" width="40.2" height="39.0" fill="#121212"/>
<rect x="664.5" y="710.2" width="40.2" height="39.0" fill="#121212"/>
<rect x="704.1" y="710.2" width="40.2" height="39.0" fill="#121212"/>
<rect x="743.7" y="710.2" width="110.2" height="39.0" fill="#141414"/>
<rect x="79.9" y="748.5" width="110.2" height="39.0" fill="#141414"/>
<rect x="189.5" y="748.5" width="40.2" height="39.0" fill="#1a1a1a"/>
<rect x="229.1" y="748.5" width="40.2" height="39.0" fill="#666666"/>
<rect x="268.7" y="748.5" width="40.2" height="39.0" fill="#cccccc"/>
<rect x="308.2" y="748.5" width="40.2" height="39.0" fill="#f2f2f2"/>
<rect x="347.8" y="748.5" width="40.2" height="39.0" fill="#ffffff"/>
<rect x="387.4" y="748.5" width="40.2" height="39.0" fill="#f7f7f7"/>
<rect x="427.0" y="748.5" width="40.2" height="39.0" fill="#d9d9d9"/>
<rect x="466.6" y="748.5" width="40.2" height="39.0" fill="#b2b2b2"/>
<rect x="506.2" y="748.5" width="40.2" height="39.0" fill="#666666"/>
<rect x="545.8" y="748.5" width="40.2" height="39.0" fill="#262626"/>
<rect x="585.4" y="748.5" width="40.2" height="39.0" fill="#121212"/>
<rect x="625.0" y="748.5" width="40.2" height="39.0" fill="#0d0d0d"/>
<rect x="664.5" y="748.5" width="40.2" height="39.0" fill="#0d0d0d"/>
<rect x="704.1" y="748.5" width="40.2" height="39.0" fill="#0d0d0d"/>
<rect x="743.7" y="748.5" width="110.2" height="39.0" fill="#121212"/>
<rect x="79.9" y="786.9" width="110.2" height="109.0" fill="#262626"/>
<rect x="189.5" y="786.9" width="40.2" height="109.0" fill="#4c4c4c"/>
<rect x="229.1" y="786.9" width="40.2" height="109.0" fill="#b2b2b2"/>
<rect x="268.7" y="786.9" width="40.2" height="109.0" fill="#d9d9d9"/>
<rect x="308.2" y="786.9" width="40.2" height="109.0" fill="#f2f2f2"/>
<rect x="347.8" y="786.9" width="40.2" height="109.0" fill="#ffffff"/>
<rect x="387.4" y="786.9" width="40.2" height="109.0" fill="#ffffff"/>
<rect x="427.0" y="786.9" width="40.2" height="109.0" fill="#f2f2f2"/>
<rect x="466.6" y="786.9" width="40.2" height="109.0" fill="#d9d9d9"/>
<rect x="506.2" y="786.9" width="40.2" height="109.0" fill="#b2b2b2"/>
<rect x="545.8" y="786.9" width="40.2" height="109.0" fill="#666666"/>
<rect x="585.4" y="786.9" width="40.2" height="109.0" fill="#333333"/>
<rect x="625.0" y="786.9" width="40.2" height="109.0" fill="#1a1a1a"/>
<rect x="664.5" y="786.9" width="40.2" height="109.0" fill="#141414"/>
<rect x="704.1" y="786.9" width="40.2" height="109.0" fill="#1a1a1a"/>
<rect x="743.7" y="786.9" width="110.2" height="109.0" fill="#1a1a1a"/>
</g>
<g filter="url(#b9)">
<rect x="70.2" y="652" width="793.4" height="253.6" fill="#141414"/>
<polygon points="266.429,646 263.55,660 241.521,700 232.521,746 220.521,778 170.221,816 117.274,856 803.728,856 691.743,816 585.357,778 560.75,746 529.329,700 516.236,660 513.479,646" fill="#343434"/>
<polygon points="275.286,646 272.85,660 254.364,700 245.364,746 233.364,778 189.264,816 142.843,856 755.899,856 661.629,816 572.071,778 545.25,746 519.586,700 502.507,660 500.636,646" fill="#565656"/>
<polygon points="284.134,646 282.134,660 267.154,700 258.194,746 246.241,778 208.395,816 168.557,856 708.248,856 631.511,816 558.612,778 529.531,746 509.719,700 488.83,660 487.837,646" fill="#777777"/>
<polygon points="292.438,646 290.438,660 276.703,700 270.234,746 261.188,778 232.891,816 203.104,856 671.384,856 601.203,816 534.531,778 500.469,746 492.31,700 478.293,660 477.759,646" fill="#999999"/>
<polygon points="300.741,646 298.741,660 286.252,700 282.275,746 276.134,778 257.386,816 237.652,856 634.521,856 570.895,816 510.451,778 471.406,746 474.901,700 467.756,660 467.68,646" fill="#bbbbbb"/>
<polygon points="311.761,646 310.071,660 299.934,700 301.529,746 299.219,778 298.21,816 297.147,856 572.417,856 527.79,816 485.395,778 434.71,746 375.687,700 369.723,660 368.723,646" fill="#dddddd"/>
<polygon points="324.536,646 323.357,660 316.286,700 329.026,746 334.227,778 350.429,816 367.483,856 497.581,856 475.571,816 454.662,778 396.24,746 360.357,700 361.036,660 360.036,646" fill="#ffffff"/>
</g>
<g filter="url(#b9)">
<rect x="90" y="514" width="172" height="33" fill="#ffffff"/>
<rect x="90" y="484" width="138" height="25" fill="#a3a3a3"/>
<rect x="226" y="486" width="36" height="25" fill="#e0e0e0"/>
<rect x="90" y="548" width="170" height="17" fill="#a8a8a8"/>
<rect x="90" y="566" width="162" height="32" fill="#666666"/>
<ellipse cx="130" cy="478" rx="60" ry="12" fill="#595959"/>
<ellipse cx="198" cy="634" rx="56" ry="13" fill="#000000"/>
<ellipse cx="185" cy="735" rx="60" ry="60" fill="#161616"/>
<ellipse cx="190" cy="703" rx="62" ry="11" fill="#030303"/>
<path d="M440 600 C440.7 604.2 442.8 617.5 444.0 625.0 C445.2 632.5 446.5 641.7 447.0 645.0" fill="none" stroke="#b8b8b8" stroke-width="30" stroke-linecap="round" stroke-linejoin="round"/>
<path d="M392 565 C392.8 574.2 395.3 604.2 397.0 620.0 C398.7 635.8 400.8 650.0 402.0 660.0 C403.2 670.0 403.7 676.7 404.0 680.0" fill="none" stroke="#6b6b6b" stroke-width="20" stroke-linecap="round" stroke-linejoin="round"/>
<ellipse cx="783" cy="490" rx="19" ry="16" fill="#f7f7f7"/>
</g>
<g filter="url(#b5)">
<path d="M326 545 C327.2 550.8 330.5 568.3 333.0 580.0 C335.5 591.7 338.8 603.3 341.0 615.0 C343.2 626.7 344.7 637.5 346.0 650.0 C347.3 662.5 348.5 683.3 349.0 690.0" fill="none" stroke="#ffffff" stroke-width="28" stroke-linecap="round" stroke-linejoin="round"/>
<path d="M358 490 L358 538" fill="none" stroke="#ffffff" stroke-width="21" stroke-linecap="round" stroke-linejoin="round"/>
<path d="M325 546 L356 538" fill="none" stroke="#ffffff" stroke-width="12" stroke-linecap="round" stroke-linejoin="round"/>
<ellipse cx="306" cy="498" rx="13" ry="12" fill="#d9d9d9"/>
<ellipse cx="307" cy="527" rx="13" ry="12" fill="#d9d9d9"/>
<path d="M281 484 L284 530" fill="none" stroke="#4c4c4c" stroke-width="14" stroke-linecap="round" stroke-linejoin="round"/>
<path d="M286 536 C286.7 540.0 288.7 551.0 290.0 560.0 C291.3 569.0 292.5 579.7 294.0 590.0 C295.5 600.3 298.2 616.7 299.0 622.0" fill="none" stroke="#080808" stroke-width="13" stroke-linecap="round" stroke-linejoin="round"/>
<path d="M326 482 C327.2 485.0 332.8 494.0 333.0 500.0 C333.2 506.0 327.2 512.0 327.0 518.0 C326.8 524.0 331.2 533.0 332.0 536.0" fill="none" stroke="#080808" stroke-width="11" stroke-linecap="round" stroke-linejoin="round"/>
<path d="M380 482 C381.3 485.8 387.3 497.0 388.0 505.0 C388.7 513.0 383.7 520.8 384.0 530.0 C384.3 539.2 389.0 555.0 390.0 560.0" fill="none" stroke="#080808" stroke-width="11" stroke-linecap="round" stroke-linejoin="round"/>
<ellipse cx="402" cy="497" rx="13" ry="12" fill="#b8b8b8"/>
<ellipse cx="403" cy="528" rx="13" ry="12" fill="#b8b8b8"/>
<path d="M427 486 C427.7 490.3 430.8 503.2 431.0 512.0 C431.2 520.8 428.5 534.5 428.0 539.0" fill="none" stroke="#080808" stroke-width="11" stroke-linecap="round" stroke-linejoin="round"/>
<ellipse cx="449" cy="495" rx="13" ry="12" fill="#c7c7c7"/>
<ellipse cx="457" cy="531" rx="14" ry="12" fill="#cccccc"/>
<path d="M481 486 C481.7 490.3 484.8 503.3 485.0 512.0 C485.2 520.7 482.5 533.7 482.0 538.0" fill="none" stroke="#0a0a0a" stroke-width="11" stroke-linecap="round" stroke-linejoin="round"/>
</g>
<g filter="url(#b7)">
<path d="M600 527 C610.0 526.8 638.3 526.7 660.0 526.0 C681.7 525.3 718.3 523.5 730.0 523.0" fill="none" stroke="#616161" stroke-width="13" stroke-linecap="round" stroke-linejoin="round"/>
<path d="M560 559 C575.0 559.2 618.3 560.3 650.0 560.0 C681.7 559.7 733.3 557.5 750.0 557.0" fill="none" stroke="#4c4c4c" stroke-width="11" stroke-linecap="round" stroke-linejoin="round"/>
<path d="M560 604 C573.3 604.2 616.7 605.2 640.0 605.0 C663.3 604.8 690.0 603.3 700.0 603.0" fill="none" stroke="#383838" stroke-width="11" stroke-linecap="round" stroke-linejoin="round"/>
<path d="M640 545 L740 543" fill="none" stroke="#1f1f1f" stroke-width="8" stroke-linecap="round" stroke-linejoin="round"/>
<path d="M600 582 L760 580" fill="none" stroke="#141414" stroke-width="12" stroke-linecap="round" stroke-linejoin="round"/>
<path d="M680 507 L790 503" fill="none" stroke="#1f1f1f" stroke-width="7" stroke-linecap="round" stroke-linejoin="round"/>
<path d="M690 612 L790 608" fill="none" stroke="#0d0d0d" stroke-width="8" stroke-linecap="round" stroke-linejoin="round"/>
<path d="M700 630 L790 628" fill="none" stroke="#262626" stroke-width="7" stroke-linecap="round" stroke-linejoin="round"/>
</g>
<g filter="url(#b5)">
<ellipse cx="515" cy="484" rx="6" ry="12" fill="#050505" transform="rotate(25 515 484)"/>
<ellipse cx="556" cy="484" rx="6" ry="12" fill="#050505" transform="rotate(25 556 484)"/>
<ellipse cx="598" cy="484" rx="6" ry="12" fill="#050505" transform="rotate(25 598 484)"/>
<ellipse cx="532" cy="515" rx="6" ry="12" fill="#050505" transform="rotate(25 532 515)"/>
<ellipse cx="577" cy="515" rx="6" ry="12" fill="#050505" transform="rotate(25 577 515)"/>
<ellipse cx="622" cy="515" rx="6" ry="12" fill="#050505" transform="rotate(25 622 515)"/>
<ellipse cx="508" cy="543" rx="6" ry="12" fill="#050505" transform="rotate(25 508 543)"/>
<ellipse cx="556" cy="543" rx="6" ry="12" fill="#050505" transform="rotate(25 556 543)"/>
<ellipse cx="604" cy="543" rx="6" ry="12" fill="#050505" transform="rotate(25 604 543)"/>
<ellipse cx="486" cy="567.5" rx="6" ry="12" fill="#050505" transform="rotate(25 486 567.5)"/>
<ellipse cx="535" cy="567.5" rx="6" ry="12" fill="#050505" transform="rotate(25 535 567.5)"/>
<ellipse cx="588" cy="567.5" rx="6" ry="12" fill="#050505" transform="rotate(25 588 567.5)"/>
<ellipse cx="518" cy="592" rx="6" ry="12" fill="#050505" transform="rotate(25 518 592)"/>
<ellipse cx="570" cy="592" rx="6" ry="12" fill="#050505" transform="rotate(25 570 592)"/>
<ellipse cx="494.5" cy="496" rx="14" ry="10" fill="#757575"/>
<ellipse cx="535" cy="496" rx="14" ry="10" fill="#6e6e6e"/>
<ellipse cx="577.6" cy="496" rx="14" ry="10" fill="#666666"/>
<ellipse cx="620" cy="496" rx="14" ry="10" fill="#5e5e5e"/>
<ellipse cx="662" cy="496" rx="14" ry="10" fill="#575757"/>
<ellipse cx="508.7" cy="527" rx="14" ry="10" fill="#757575"/>
<ellipse cx="555.3" cy="527" rx="14" ry="10" fill="#6e6e6e"/>
<ellipse cx="600" cy="527" rx="14" ry="10" fill="#666666"/>
<ellipse cx="642.5" cy="527" rx="14" ry="10" fill="#5e5e5e"/>
<ellipse cx="688" cy="527" rx="14" ry="10" fill="#575757"/>
<ellipse cx="531" cy="555" rx="14" ry="10" fill="#757575"/>
<ellipse cx="579.6" cy="555" rx="14" ry="10" fill="#6e6e6e"/>
<ellipse cx="628.3" cy="555" rx="14" ry="10" fill="#666666"/>
<ellipse cx="675" cy="555" rx="14" ry="10" fill="#5e5e5e"/>
<ellipse cx="508.7" cy="579.5" rx="14" ry="10" fill="#757575"/>
<ellipse cx="561.4" cy="579.5" rx="14" ry="10" fill="#6e6e6e"/>
<ellipse cx="614" cy="579.5" rx="14" ry="10" fill="#666666"/>
<ellipse cx="665" cy="579.5" rx="14" ry="10" fill="#5e5e5e"/>
<ellipse cx="541" cy="604" rx="14" ry="10" fill="#757575"/>
<ellipse cx="598" cy="604" rx="14" ry="10" fill="#6e6e6e"/>
<ellipse cx="650" cy="604" rx="14" ry="10" fill="#666666"/>
</g>
<g filter="url(#b8)">
<path d="M520 662 C533.3 666.7 573.3 677.8 600.0 690.0 C626.7 702.2 653.3 723.3 680.0 735.0 C706.7 746.7 746.7 755.8 760.0 760.0" fill="none" stroke="#262626" stroke-width="12" stroke-linecap="round" stroke-linejoin="round"/>
<path d="M540 700 C553.3 705.8 593.3 723.3 620.0 735.0 C646.7 746.7 671.7 761.7 700.0 770.0 C728.3 778.3 775.0 782.5 790.0 785.0" fill="none" stroke="#080808" stroke-width="10" stroke-linecap="round" stroke-linejoin="round"/>
<path d="M600 665 C613.3 670.0 648.3 685.8 680.0 695.0 C711.7 704.2 771.7 715.8 790.0 720.0" fill="none" stroke="#080808" stroke-width="10" stroke-linecap="round" stroke-linejoin="round"/>
<path d="M560 740 C573.3 745.8 613.3 765.0 640.0 775.0 C666.7 785.0 706.7 795.8 720.0 800.0" fill="none" stroke="#212121" stroke-width="10" stroke-linecap="round" stroke-linejoin="round"/>
<ellipse cx="700" cy="650" rx="60" ry="8" fill="#212121"/>
</g>
</g></g>
<rect x="150.2" y="480.2" width="633.4" height="345.4" fill="none" stroke="#000" stroke-width="1.6"/>
<path d="M153.2 645.4 H780" stroke="#dedede" stroke-width="5.4" stroke-dasharray="20.3 15.6" fill="none"/>
<path d="M287.8 825.6 v10 M453 825.6 v10 M620.4 825.6 v10 M781.6 825.6 v10 " stroke="#000" stroke-width="3.6" fill="none"/>
<text x="270.7" y="871.8" font-size="32.4" letter-spacing="-1" text-anchor="middle" font-family='"DejaVu Serif", "Liberation Serif", serif'>2500</text>
<text x="433.5" y="871.8" font-size="32.4" letter-spacing="-1" text-anchor="middle" font-family='"DejaVu Serif", "Liberation Serif", serif'>3000</text>
<text x="600.7" y="871.8" font-size="32.4" letter-spacing="-1" text-anchor="middle" font-family='"DejaVu Serif", "Liberation Serif", serif'>3500</text>
<text x="764.2" y="871.8" font-size="32.4" letter-spacing="-1" text-anchor="middle" font-family='"DejaVu Serif", "Liberation Serif", serif'>4000</text>
<text x="372.7" y="921.9" font-size="34.5" letter-spacing="0.2" font-family='"DejaVu Serif", "Liberation Serif", serif'>ω / cm<tspan dy="-12.5" font-size="25">−1</tspan></text>
<text y="805.8" font-size="43" font-family='"DejaVu Serif", "Liberation Serif", serif'><tspan x="329.7" font-style="italic">n</tspan><tspan x="373.2">=</tspan><tspan x="427.2">1</tspan></text>
<clipPath id="hc2"><rect x="825.8" y="479.2" width="630" height="345.4"/></clipPath>
<g clip-path="url(#hc2)"><g filter="url(#bone)">
<rect x="765.8" y="419.2" width="750" height="465.4" fill="#1f1f1f"/>
<g filter="url(#b16)">
<rect x="755.5" y="408.9" width="110.0" height="109.0" fill="#cccccc"/>
<rect x="864.9" y="408.9" width="40.0" height="109.0" fill="#f7f7f7"/>
<rect x="904.2" y="408.9" width="40.0" height="109.0" fill="#f2f2f2"/>
<rect x="943.6" y="408.9" width="40.0" height="109.0" fill="#bfbfbf"/>
<rect x="983.0" y="408.9" width="40.0" height="109.0" fill="#737373"/>
<rect x="1022.4" y="408.9" width="40.0" height="109.0" fill="#999999"/>
<rect x="1061.8" y="408.9" width="40.0" height="109.0" fill="#737373"/>
<rect x="1101.1" y="408.9" width="40.0" height="109.0" fill="#666666"/>
<rect x="1140.5" y="408.9" width="40.0" height="109.0" fill="#404040"/>
<rect x="1179.9" y="408.9" width="40.0" height="109.0" fill="#1f1f1f"/>
<rect x="1219.2" y="408.9" width="40.0" height="109.0" fill="#141414"/>
<rect x="1258.6" y="408.9" width="40.0" height="109.0" fill="#141414"/>
<rect x="1298.0" y="408.9" width="40.0" height="109.0" fill="#262626"/>
<rect x="1337.4" y="408.9" width="40.0" height="109.0" fill="#4c4c4c"/>
<rect x="1376.8" y="408.9" width="40.0" height="109.0" fill="#8c8c8c"/>
<rect x="1416.1" y="408.9" width="110.0" height="109.0" fill="#e6e6e6"/>
<rect x="755.5" y="517.3" width="110.0" height="39.0" fill="#ffffff"/>
<rect x="864.9" y="517.3" width="40.0" height="39.0" fill="#ffffff"/>
<rect x="904.2" y="517.3" width="40.0" height="39.0" fill="#f2f2f2"/>
<rect x="943.6" y="517.3" width="40.0" height="39.0" fill="#b2b2b2"/>
<rect x="983.0" y="517.3" width="40.0" height="39.0" fill="#bfbfbf"/>
<rect x="1022.4" y="517.3" width="40.0" height="39.0" fill="#737373"/>
<rect x="1061.8" y="517.3" width="40.0" height="39.0" fill="#595959"/>
<rect x="1101.1" y="517.3" width="40.0" height="39.0" fill="#737373"/>
<rect x="1140.5" y="517.3" width="40.0" height="39.0" fill="#4c4c4c"/>
<rect x="1179.9" y="517.3" width="40.0" height="39.0" fill="#333333"/>
<rect x="1219.2" y="517.3" width="40.0" height="39.0" fill="#262626"/>
<rect x="1258.6" y="517.3" width="40.0" height="39.0" fill="#1f1f1f"/>
<rect x="1298.0" y="517.3" width="40.0" height="39.0" fill="#262626"/>
<rect x="1337.4" y="517.3" width="40.0" height="39.0" fill="#4c4c4c"/>
<rect x="1376.8" y="517.3" width="40.0" height="39.0" fill="#808080"/>
<rect x="1416.1" y="517.3" width="110.0" height="39.0" fill="#cccccc"/>
<rect x="755.5" y="555.7" width="110.0" height="39.0" fill="#8c8c8c"/>
<rect x="864.9" y="555.7" width="40.0" height="39.0" fill="#808080"/>
<rect x="904.2" y="555.7" width="40.0" height="39.0" fill="#737373"/>
<rect x="943.6" y="555.7" width="40.0" height="39.0" fill="#595959"/>
<rect x="983.0" y="555.7" width="40.0" height="39.0" fill="#ffffff"/>
<rect x="1022.4" y="555.7" width="40.0" height="39.0" fill="#999999"/>
<rect x="1061.8" y="555.7" width="40.0" height="39.0" fill="#333333"/>
<rect x="1101.1" y="555.7" width="40.0" height="39.0" fill="#737373"/>
<rect x="1140.5" y="555.7" width="40.0" height="39.0" fill="#404040"/>
<rect x="1179.9" y="555.7" width="40.0" height="39.0" fill="#1f1f1f"/>
<rect x="1219.2" y="555.7" width="40.0" height="39.0" fill="#262626"/>
<rect x="1258.6" y="555.7" width="40.0" height="39.0" fill="#333333"/>
<rect x="1298.0" y="555.7" width="40.0" height="39.0" fill="#404040"/>
<rect x="1337.4" y="555.7" width="40.0" height="39.0" fill="#4c4c4c"/>
<rect x="1376.8" y="555.7" width="40.0" height="39.0" fill="#666666"/>
<rect x="1416.1" y="555.7" width="110.0" height="39.0" fill="#999999"/>
<rect x="755.5" y="594.0" width="110.0" height="39.0" fill="#1a1a1a"/>
<rect x="864.9" y="594.0" width="40.0" height="39.0" fill="#0d0d0d"/>
<rect x="904.2" y="594.0" width="40.0" height="39.0" fill="#262626"/>
<rect x="943.6" y="594.0" width="40.0" height="39.0" fill="#262626"/>
<rect x="983.0" y="594.0" width="40.0" height="39.0" fill="#f2f2f2"/>
<rect x="1022.4" y="594.0" width="40.0" height="39.0" fill="#bfbfbf"/>
<rect x="1061.8" y="594.0" width="40.0" height="39.0" fill="#333333"/>
<rect x="1101.1" y="594.0" width="40.0" height="39.0" fill="#8c8c8c"/>
<rect x="1140.5" y="594.0" width="40.0" height="39.0" fill="#4c4c4c"/>
<rect x="1179.9" y="594.0" width="40.0" height="39.0" fill="#1a1a1a"/>
<rect x="1219.2" y="594.0" width="40.0" height="39.0" fill="#1a1a1a"/>
<rect x="1258.6" y="594.0" width="40.0" height="39.0" fill="#1a1a1a"/>
<rect x="1298.0" y="594.0" width="40.0" height="39.0" fill="#1a1a1a"/>
<rect x="1337.4" y="594.0" width="40.0" height="39.0" fill="#1a1a1a"/>
<rect x="1376.8" y="594.0" width="40.0" height="39.0" fill="#262626"/>
<rect x="1416.1" y="594.0" width="110.0" height="39.0" fill="#404040"/>
<rect x="755.5" y="632.4" width="110.0" height="39.0" fill="#0d0d0d"/>
<rect x="864.9" y="632.4" width="40.0" height="39.0" fill="#0d0d0d"/>
<rect x="904.2" y="632.4" width="40.0" height="39.0" fill="#333333"/>
<rect x="943.6" y="632.4" width="40.0" height="39.0" fill="#999999"/>
<rect x="983.0" y="632.4" width="40.0" height="39.0" fill="#ffffff"/>
<rect x="1022.4" y="632.4" width="40.0" height="39.0" fill="#cccccc"/>
<rect x="1061.8" y="632.4" width="40.0" height="39.0" fill="#333333"/>
<rect x="1101.1" y="632.4" width="40.0" height="39.0" fill="#b2b2b2"/>
<rect x="1140.5" y="632.4" width="40.0" height="39.0" fill="#737373"/>
<rect x="1179.9" y="632.4" width="40.0" height="39.0" fill="#333333"/>
<rect x="1219.2" y="632.4" width="40.0" height="39.0" fill="#1a1a1a"/>
<rect x="1258.6" y="632.4" width="40.0" height="39.0" fill="#121212"/>
<rect x="1298.0" y="632.4" width="40.0" height="39.0" fill="#0d0d0d"/>
<rect x="1337.4" y="632.4" width="40.0" height="39.0" fill="#080808"/>
<rect x="1376.8" y="632.4" width="40.0" height="39.0" fill="#0d0d0d"/>
<rect x="1416.1" y="632.4" width="110.0" height="39.0" fill="#141414"/>
<rect x="755.5" y="670.8" width="110.0" height="39.0" fill="#0d0d0d"/>
<rect x="864.9" y="670.8" width="40.0" height="39.0" fill="#1a1a1a"/>
<rect x="904.2" y="670.8" width="40.0" height="39.0" fill="#595959"/>
<rect x="943.6" y="670.8" width="40.0" height="39.0" fill="#cccccc"/>
<rect x="983.0" y="670.8" width="40.0" height="39.0" fill="#ffffff"/>
<rect x="1022.4" y="670.8" width="40.0" height="39.0" fill="#e6e6e6"/>
<rect x="1061.8" y="670.8" width="40.0" height="39.0" fill="#999999"/>
<rect x="1101.1" y="670.8" width="40.0" height="39.0" fill="#cccccc"/>
<rect x="1140.5" y="670.8" width="40.0" height="39.0" fill="#8c8c8c"/>
<rect x="1179.9" y="670.8" width="40.0" height="39.0" fill="#404040"/>
<rect x="1219.2" y="670.8" width="40.0" height="39.0" fill="#1a1a1a"/>
<rect x="1258.6" y="670.8" width="40.0" height="39.0" fill="#121212"/>
<rect x="1298.0" y="670.8" width="40.0" height="39.0" fill="#0d0d0d"/>
<rect x="1337.4" y="670.8" width="40.0" height="39.0" fill="#0d0d0d"/>
<rect x="1376.8" y="670.8" width="40.0" height="39.0" fill="#0d0d0d"/>
<rect x="1416.1" y="670.8" width="110.0" height="39.0" fill="#0d0d0d"/>
<rect x="755.5" y="709.2" width="110.0" height="39.0" fill="#080808"/>
<rect x="864.9" y="709.2" width="40.0" height="39.0" fill="#141414"/>
<rect x="904.2" y="709.2" width="40.0" height="39.0" fill="#666666"/>
<rect x="943.6" y="709.2" width="40.0" height="39.0" fill="#cccccc"/>
<rect x="983.0" y="709.2" width="40.0" height="39.0" fill="#f7f7f7"/>
<rect x="1022.4" y="709.2" width="40.0" height="39.0" fill="#ffffff"/>
<rect x="1061.8" y="709.2" width="40.0" height="39.0" fill="#f2f2f2"/>
<rect x="1101.1" y="709.2" width="40.0" height="39.0" fill="#d9d9d9"/>
<rect x="1140.5" y="709.2" width="40.0" height="39.0" fill="#b2b2b2"/>
<rect x="1179.9" y="709.2" width="40.0" height="39.0" fill="#666666"/>
<rect x="1219.2" y="709.2" width="40.0" height="39.0" fill="#262626"/>
<rect x="1258.6" y="709.2" width="40.0" height="39.0" fill="#141414"/>
<rect x="1298.0" y="709.2" width="40.0" height="39.0" fill="#0d0d0d"/>
<rect x="1337.4" y="709.2" width="40.0" height="39.0" fill="#0d0d0d"/>
<rect x="1376.8" y="709.2" width="40.0" height="39.0" fill="#0d0d0d"/>
<rect x="1416.1" y="709.2" width="110.0" height="39.0" fill="#0d0d0d"/>
<rect x="755.5" y="747.5" width="110.0" height="39.0" fill="#080808"/>
<rect x="864.9" y="747.5" width="40.0" height="39.0" fill="#262626"/>
<rect x="904.2" y="747.5" width="40.0" height="39.0" fill="#8c8c8c"/>
<rect x="943.6" y="747.5" width="40.0" height="39.0" fill="#cccccc"/>
<rect x="983.0" y="747.5" width="40.0" height="39.0" fill="#f2f2f2"/>
<rect x="1022.4" y="747.5" width="40.0" height="39.0" fill="#ffffff"/>
<rect x="1061.8" y="747.5" width="40.0" height="39.0" fill="#ffffff"/>
<rect x="1101.1" y="747.5" width="40.0" height="39.0" fill="#f2f2f2"/>
<rect x="1140.5" y="747.5" width="40.0" height="39.0" fill="#cccccc"/>
<rect x="1179.9" y="747.5" width="40.0" height="39.0" fill="#808080"/>
<rect x="1219.2" y="747.5" width="40.0" height="39.0" fill="#4c4c4c"/>
<rect x="1258.6" y="747.5" width="40.0" height="39.0" fill="#1a1a1a"/>
<rect x="1298.0" y="747.5" width="40.0" height="39.0" fill="#080808"/>
<rect x="1337.4" y="747.5" width="40.0" height="39.0" fill="#080808"/>
<rect x="1376.8" y="747.5" width="40.0" height="39.0" fill="#080808"/>
<rect x="1416.1" y="747.5" width="110.0" height="39.0" fill="#080808"/>
<rect x="755.5" y="785.9" width="110.0" height="109.0" fill="#1a1a1a"/>
<rect x="864.9" y="785.9" width="40.0" height="109.0" fill="#595959"/>
<rect x="904.2" y="785.9" width="40.0" height="109.0" fill="#b2b2b2"/>
<rect x="943.6" y="785.9" width="40.0" height="109.0" fill="#cccccc"/>
<rect x="983.0" y="785.9" width="40.0" height="109.0" fill="#e6e6e6"/>
<rect x="1022.4" y="785.9" width="40.0" height="109.0" fill="#f7f7f7"/>
<rect x="1061.8" y="785.9" width="40.0" height="109.0" fill="#ffffff"/>
<rect x="1101.1" y="785.9" width="40.0" height="109.0" fill="#ffffff"/>
<rect x="1140.5" y="785.9" width="40.0" height="109.0" fill="#d9d9d9"/>
<rect x="1179.9" y="785.9" width="40.0" height="109.0" fill="#bfbfbf"/>
<rect x="1219.2" y="785.9" width="40.0" height="109.0" fill="#737373"/>
<rect x="1258.6" y="785.9" width="40.0" height="109.0" fill="#333333"/>
<rect x="1298.0" y="785.9" width="40.0" height="109.0" fill="#0d0d0d"/>
<rect x="1337.4" y="785.9" width="40.0" height="109.0" fill="#050505"/>
<rect x="1376.8" y="785.9" width="40.0" height="109.0" fill="#080808"/>
<rect x="1416.1" y="785.9" width="110.0" height="109.0" fill="#0d0d0d"/>
</g>
<g filter="url(#b9)">
<rect x="745.8" y="634" width="790" height="270.6" fill="#131313"/>
<polygon points="975.905,588 967.086,606 946.538,632 929.81,660 915.081,700 901.624,746 884.171,788 840.352,815 775.435,855 1463.59,855 1358.66,815 1287.83,788 1243.11,746 1215.92,700 1187.19,660 1186.28,632 1176.37,606 1138.91,588" fill="#323232"/>
<polygon points="980.381,588 972.457,606 954.148,632 938.762,660 925.376,700 914.605,746 894.914,788 851.99,815 788.4,855 1421.27,855 1332.25,815 1272.17,788 1223.86,746 1205.62,700 1178.24,660 1177.78,632 1168.31,606 1133.54,588" fill="#545454"/>
<polygon points="984.857,588 977.829,606 961.757,632 947.714,660 935.671,700 927.586,746 905.657,788 863.629,815 801.364,855 1378.94,855 1305.84,815 1256.5,788 1204.61,746 1195.33,700 1169.29,660 1169.27,632 1160.26,606 1128.17,588" fill="#767676"/>
<polygon points="988.656,588 982.469,606 969.312,632 957.344,660 946.969,700 943.438,746 923.875,788 887.562,815 833.766,855 1336.31,855 1275.75,815 1234.88,788 1178,746 1173.03,700 1158.69,660 1158.69,632 1151.03,606 1120.83,588" fill="#989898"/>
<polygon points="992.433,588 987.085,606 976.866,632 966.996,660 958.299,700 959.384,746 942.339,788 911.902,815 866.809,855 1293.66,855 1245.54,815 1213.05,788 1151.14,746 1150.34,700 1148.04,660 1148.04,632 1141.77,606 1113.42,588" fill="#bbbbbb"/>
<polygon points="997.022,588 994.137,606 987.253,632 979.764,660 972.67,700 979.901,746 966.762,788 947.667,815 919.377,855 1234.72,855 1202.62,815 1180.95,788 1119.75,746 1053.42,700 1040.65,660 1039.16,632 1037.37,606 1034.68,588" fill="#dddddd"/>
<polygon points="1002.19,588 1002.92,606 999.648,632 994.742,660 989.198,700 1003.66,746 996.857,788 1004.14,815 1014.94,855 1159.38,855 1149.86,815 1143.43,788 1085.15,746 1035.35,700 1029.81,660 1030.9,632 1031.18,606 1028.99,588" fill="#ffffff"/>
</g>
<g filter="url(#b9)">
<rect x="760" y="498" width="174" height="53" fill="#ffffff"/>
<rect x="760" y="484" width="178" height="14" fill="#d9d9d9"/>
<ellipse cx="962" cy="506" rx="22" ry="24" fill="#cccccc"/>
<ellipse cx="838" cy="480" rx="46" ry="13" fill="#999999"/>
<ellipse cx="878" cy="620" rx="48" ry="13" fill="#000000"/>
<ellipse cx="850" cy="735" rx="45" ry="50" fill="#161616"/>
<ellipse cx="860" cy="689" rx="55" ry="10" fill="#030303"/>
<ellipse cx="1452" cy="486" rx="24" ry="22" fill="#f7f7f7"/>
<ellipse cx="1448" cy="518" rx="16" ry="34" fill="#9e9e9e"/>
</g>
<g filter="url(#b6)">
<path d="M986 556 C987.3 554.7 991.2 548.7 994.0 548.0 C996.8 547.3 1000.3 547.5 1003.0 552.0 C1005.7 556.5 1007.8 566.2 1010.0 575.0 C1012.2 583.8 1014.7 594.2 1016.0 605.0 C1017.3 615.8 1018.3 629.2 1018.0 640.0 C1017.7 650.8 1014.7 665.0 1014.0 670.0" fill="none" stroke="#ffffff" stroke-width="26" stroke-linecap="round" stroke-linejoin="round"/>
<ellipse cx="1005.6" cy="504.5" rx="7" ry="12" fill="#000000"/>
<ellipse cx="965" cy="594" rx="8" ry="16" fill="#000000"/>
<ellipse cx="1066" cy="561" rx="13" ry="26" fill="#0d0d0d"/>
<ellipse cx="1105" cy="521" rx="8" ry="14" fill="#050505"/>
<ellipse cx="1073" cy="640" rx="12" ry="42" fill="#333333"/>
<ellipse cx="1071" cy="622" rx="6" ry="20" fill="#0f0f0f"/>
</g>
<g filter="url(#b10)">
<ellipse cx="1348" cy="650" rx="40" ry="16" fill="#050505"/>
<ellipse cx="1307" cy="690" rx="30" ry="14" fill="#080808"/>
<ellipse cx="1410" cy="785" rx="50" ry="22" fill="#050505"/>
<ellipse cx="1250" cy="660" rx="40" ry="14" fill="#1f1f1f"/>
<ellipse cx="1410" cy="690" rx="50" ry="40" fill="#242424"/>
<ellipse cx="1330" cy="740" rx="60" ry="12" fill="#1a1a1a"/>
<ellipse cx="1230" cy="520" rx="30" ry="10" fill="#141414"/>
<ellipse cx="1300" cy="560" rx="40" ry="10" fill="#383838"/>
<ellipse cx="1200" cy="600" rx="30" ry="10" fill="#121212"/>
<ellipse cx="1340" cy="610" rx="50" ry="10" fill="#292929"/>
<ellipse cx="1260" cy="495" rx="40" ry="8" fill="#0d0d0d"/>
</g>
</g></g>
<rect x="825.8" y="479.2" width="630" height="345.4" fill="none" stroke="#000" stroke-width="1.6"/>
<path d="M830.2 632.6 H1454.5" stroke="#dedede" stroke-width="5.4" stroke-dasharray="20.3 15.6" fill="none"/>
<path d="M961.9 824.6 v10 M1125.8 824.6 v10 M1294.1 824.6 v10 M1454 824.6 v10 " stroke="#000" stroke-width="3.6" fill="none"/>
<text x="946.3" y="871.8" font-size="32.4" letter-spacing="-1" text-anchor="middle" font-family='"DejaVu Serif", "Liberation Serif", serif'>2500</text>
<text x="1109.1" y="871.8" font-size="32.4" letter-spacing="-1" text-anchor="middle" font-family='"DejaVu Serif", "Liberation Serif", serif'>3000</text>
<text x="1276.3" y="871.8" font-size="32.4" letter-spacing="-1" text-anchor="middle" font-family='"DejaVu Serif", "Liberation Serif", serif'>3500</text>
<text x="1439.8" y="871.8" font-size="32.4" letter-spacing="-1" text-anchor="middle" font-family='"DejaVu Serif", "Liberation Serif", serif'>4000</text>
<text x="1048.3" y="921.9" font-size="34.5" letter-spacing="0.2" font-family='"DejaVu Serif", "Liberation Serif", serif'>ω / cm<tspan dy="-12.5" font-size="25">−1</tspan></text>
<text y="805.8" font-size="43" font-family='"DejaVu Serif", "Liberation Serif", serif'><tspan x="1005.3" font-style="italic">n</tspan><tspan x="1048.8">=</tspan><tspan x="1102.8">2</tspan></text>
<clipPath id="hc3"><rect x="1496.8" y="479.6" width="629.4" height="345"/></clipPath>
<g clip-path="url(#hc3)"><g filter="url(#bone)">
<rect x="1436.8" y="419.6" width="749.4" height="465" fill="#1f1f1f"/>
<g filter="url(#b16)">
<rect x="1426.5" y="409.3" width="109.9" height="108.9" fill="#d9d9d9"/>
<rect x="1535.8" y="409.3" width="39.9" height="108.9" fill="#f7f7f7"/>
<rect x="1575.2" y="409.3" width="39.9" height="108.9" fill="#f7f7f7"/>
<rect x="1614.5" y="409.3" width="39.9" height="108.9" fill="#cccccc"/>
<rect x="1653.8" y="409.3" width="39.9" height="108.9" fill="#808080"/>
<rect x="1693.2" y="409.3" width="39.9" height="108.9" fill="#858585"/>
<rect x="1732.5" y="409.3" width="39.9" height="108.9" fill="#737373"/>
<rect x="1771.9" y="409.3" width="39.9" height="108.9" fill="#666666"/>
<rect x="1811.2" y="409.3" width="39.9" height="108.9" fill="#333333"/>
<rect x="1850.5" y="409.3" width="39.9" height="108.9" fill="#1f1f1f"/>
<rect x="1889.9" y="409.3" width="39.9" height="108.9" fill="#1f1f1f"/>
<rect x="1929.2" y="409.3" width="39.9" height="108.9" fill="#1a1a1a"/>
<rect x="1968.5" y="409.3" width="39.9" height="108.9" fill="#1a1a1a"/>
<rect x="2007.9" y="409.3" width="39.9" height="108.9" fill="#262626"/>
<rect x="2047.2" y="409.3" width="39.9" height="108.9" fill="#595959"/>
<rect x="2086.6" y="409.3" width="109.9" height="108.9" fill="#b2b2b2"/>
<rect x="1426.5" y="517.6" width="109.9" height="38.9" fill="#8c8c8c"/>
<rect x="1535.8" y="517.6" width="39.9" height="38.9" fill="#858585"/>
<rect x="1575.2" y="517.6" width="39.9" height="38.9" fill="#808080"/>
<rect x="1614.5" y="517.6" width="39.9" height="38.9" fill="#737373"/>
<rect x="1653.8" y="517.6" width="39.9" height="38.9" fill="#f7f7f7"/>
<rect x="1693.2" y="517.6" width="39.9" height="38.9" fill="#999999"/>
<rect x="1732.5" y="517.6" width="39.9" height="38.9" fill="#4c4c4c"/>
<rect x="1771.9" y="517.6" width="39.9" height="38.9" fill="#737373"/>
<rect x="1811.2" y="517.6" width="39.9" height="38.9" fill="#404040"/>
<rect x="1850.5" y="517.6" width="39.9" height="38.9" fill="#1a1a1a"/>
<rect x="1889.9" y="517.6" width="39.9" height="38.9" fill="#1a1a1a"/>
<rect x="1929.2" y="517.6" width="39.9" height="38.9" fill="#1a1a1a"/>
<rect x="1968.5" y="517.6" width="39.9" height="38.9" fill="#1f1f1f"/>
<rect x="2007.9" y="517.6" width="39.9" height="38.9" fill="#262626"/>
<rect x="2047.2" y="517.6" width="39.9" height="38.9" fill="#404040"/>
<rect x="2086.6" y="517.6" width="109.9" height="38.9" fill="#737373"/>
<rect x="1426.5" y="556.0" width="109.9" height="38.9" fill="#404040"/>
<rect x="1535.8" y="556.0" width="39.9" height="38.9" fill="#404040"/>
<rect x="1575.2" y="556.0" width="39.9" height="38.9" fill="#4c4c4c"/>
<rect x="1614.5" y="556.0" width="39.9" height="38.9" fill="#262626"/>
<rect x="1653.8" y="556.0" width="39.9" height="38.9" fill="#ffffff"/>
<rect x="1693.2" y="556.0" width="39.9" height="38.9" fill="#a6a6a6"/>
<rect x="1732.5" y="556.0" width="39.9" height="38.9" fill="#333333"/>
<rect x="1771.9" y="556.0" width="39.9" height="38.9" fill="#737373"/>
<rect x="1811.2" y="556.0" width="39.9" height="38.9" fill="#4c4c4c"/>
<rect x="1850.5" y="556.0" width="39.9" height="38.9" fill="#1a1a1a"/>
<rect x="1889.9" y="556.0" width="39.9" height="38.9" fill="#141414"/>
<rect x="1929.2" y="556.0" width="39.9" height="38.9" fill="#0d0d0d"/>
<rect x="1968.5" y="556.0" width="39.9" height="38.9" fill="#0d0d0d"/>
<rect x="2007.9" y="556.0" width="39.9" height="38.9" fill="#141414"/>
<rect x="2047.2" y="556.0" width="39.9" height="38.9" fill="#1a1a1a"/>
<rect x="2086.6" y="556.0" width="109.9" height="38.9" fill="#1f1f1f"/>
<rect x="1426.5" y="594.3" width="109.9" height="38.9" fill="#0d0d0d"/>
<rect x="1535.8" y="594.3" width="39.9" height="38.9" fill="#080808"/>
<rect x="1575.2" y="594.3" width="39.9" height="38.9" fill="#262626"/>
<rect x="1614.5" y="594.3" width="39.9" height="38.9" fill="#666666"/>
<rect x="1653.8" y="594.3" width="39.9" height="38.9" fill="#ffffff"/>
<rect x="1693.2" y="594.3" width="39.9" height="38.9" fill="#bfbfbf"/>
<rect x="1732.5" y="594.3" width="39.9" height="38.9" fill="#262626"/>
<rect x="1771.9" y="594.3" width="39.9" height="38.9" fill="#999999"/>
<rect x="1811.2" y="594.3" width="39.9" height="38.9" fill="#666666"/>
<rect x="1850.5" y="594.3" width="39.9" height="38.9" fill="#1f1f1f"/>
<rect x="1889.9" y="594.3" width="39.9" height="38.9" fill="#141414"/>
<rect x="1929.2" y="594.3" width="39.9" height="38.9" fill="#0f0f0f"/>
<rect x="1968.5" y="594.3" width="39.9" height="38.9" fill="#0d0d0d"/>
<rect x="2007.9" y="594.3" width="39.9" height="38.9" fill="#0d0d0d"/>
<rect x="2047.2" y="594.3" width="39.9" height="38.9" fill="#0f0f0f"/>
<rect x="2086.6" y="594.3" width="109.9" height="38.9" fill="#141414"/>
<rect x="1426.5" y="632.6" width="109.9" height="38.9" fill="#0d0d0d"/>
<rect x="1535.8" y="632.6" width="39.9" height="38.9" fill="#121212"/>
<rect x="1575.2" y="632.6" width="39.9" height="38.9" fill="#404040"/>
<rect x="1614.5" y="632.6" width="39.9" height="38.9" fill="#b2b2b2"/>
<rect x="1653.8" y="632.6" width="39.9" height="38.9" fill="#ffffff"/>
<rect x="1693.2" y="632.6" width="39.9" height="38.9" fill="#d9d9d9"/>
<rect x="1732.5" y="632.6" width="39.9" height="38.9" fill="#666666"/>
<rect x="1771.9" y="632.6" width="39.9" height="38.9" fill="#cccccc"/>
<rect x="1811.2" y="632.6" width="39.9" height="38.9" fill="#808080"/>
<rect x="1850.5" y="632.6" width="39.9" height="38.9" fill="#333333"/>
<rect x="1889.9" y="632.6" width="39.9" height="38.9" fill="#141414"/>
<rect x="1929.2" y="632.6" width="39.9" height="38.9" fill="#0f0f0f"/>
<rect x="1968.5" y="632.6" width="39.9" height="38.9" fill="#0d0d0d"/>
<rect x="2007.9" y="632.6" width="39.9" height="38.9" fill="#0d0d0d"/>
<rect x="2047.2" y="632.6" width="39.9" height="38.9" fill="#0d0d0d"/>
<rect x="2086.6" y="632.6" width="109.9" height="38.9" fill="#121212"/>
<rect x="1426.5" y="671.0" width="109.9" height="38.9" fill="#080808"/>
<rect x="1535.8" y="671.0" width="39.9" height="38.9" fill="#1a1a1a"/>
<rect x="1575.2" y="671.0" width="39.9" height="38.9" fill="#666666"/>
<rect x="1614.5" y="671.0" width="39.9" height="38.9" fill="#cccccc"/>
<rect x="1653.8" y="671.0" width="39.9" height="38.9" fill="#ffffff"/>
<rect x="1693.2" y="671.0" width="39.9" height="38.9" fill="#f7f7f7"/>
<rect x="1732.5" y="671.0" width="39.9" height="38.9" fill="#d9d9d9"/>
<rect x="1771.9" y="671.0" width="39.9" height="38.9" fill="#d9d9d9"/>
<rect x="1811.2" y="671.0" width="39.9" height="38.9" fill="#a6a6a6"/>
<rect x="1850.5" y="671.0" width="39.9" height="38.9" fill="#4c4c4c"/>
<rect x="1889.9" y="671.0" width="39.9" height="38.9" fill="#1a1a1a"/>
<rect x="1929.2" y="671.0" width="39.9" height="38.9" fill="#0f0f0f"/>
<rect x="1968.5" y="671.0" width="39.9" height="38.9" fill="#0d0d0d"/>
<rect x="2007.9" y="671.0" width="39.9" height="38.9" fill="#0d0d0d"/>
<rect x="2047.2" y="671.0" width="39.9" height="38.9" fill="#0d0d0d"/>
<rect x="2086.6" y="671.0" width="109.9" height="38.9" fill="#0d0d0d"/>
<rect x="1426.5" y="709.3" width="109.9" height="38.9" fill="#080808"/>
<rect x="1535.8" y="709.3" width="39.9" height="38.9" fill="#262626"/>
<rect x="1575.2" y="709.3" width="39.9" height="38.9" fill="#808080"/>
<rect x="1614.5" y="709.3" width="39.9" height="38.9" fill="#cccccc"/>
<rect x="1653.8" y="709.3" width="39.9" height="38.9" fill="#f7f7f7"/>
<rect x="1693.2" y="709.3" width="39.9" height="38.9" fill="#ffffff"/>
<rect x="1732.5" y="709.3" width="39.9" height="38.9" fill="#f7f7f7"/>
<rect x="1771.9" y="709.3" width="39.9" height="38.9" fill="#d9d9d9"/>
<rect x="1811.2" y="709.3" width="39.9" height="38.9" fill="#bfbfbf"/>
<rect x="1850.5" y="709.3" width="39.9" height="38.9" fill="#737373"/>
<rect x="1889.9" y="709.3" width="39.9" height="38.9" fill="#333333"/>
<rect x="1929.2" y="709.3" width="39.9" height="38.9" fill="#141414"/>
<rect x="1968.5" y="709.3" width="39.9" height="38.9" fill="#0d0d0d"/>
<rect x="2007.9" y="709.3" width="39.9" height="38.9" fill="#080808"/>
<rect x="2047.2" y="709.3" width="39.9" height="38.9" fill="#080808"/>
<rect x="2086.6" y="709.3" width="109.9" height="38.9" fill="#0d0d0d"/>
<rect x="1426.5" y="747.6" width="109.9" height="38.9" fill="#0d0d0d"/>
<rect x="1535.8" y="747.6" width="39.9" height="38.9" fill="#404040"/>
<rect x="1575.2" y="747.6" width="39.9" height="38.9" fill="#999999"/>
<rect x="1614.5" y="747.6" width="39.9" height="38.9" fill="#cccccc"/>
<rect x="1653.8" y="747.6" width="39.9" height="38.9" fill="#f2f2f2"/>
<rect x="1693.2" y="747.6" width="39.9" height="38.9" fill="#ffffff"/>
<rect x="1732.5" y="747.6" width="39.9" height="38.9" fill="#ffffff"/>
<rect x="1771.9" y="747.6" width="39.9" height="38.9" fill="#e6e6e6"/>
<rect x="1811.2" y="747.6" width="39.9" height="38.9" fill="#cccccc"/>
<rect x="1850.5" y="747.6" width="39.9" height="38.9" fill="#999999"/>
<rect x="1889.9" y="747.6" width="39.9" height="38.9" fill="#4c4c4c"/>
<rect x="1929.2" y="747.6" width="39.9" height="38.9" fill="#1f1f1f"/>
<rect x="1968.5" y="747.6" width="39.9" height="38.9" fill="#0d0d0d"/>
<rect x="2007.9" y="747.6" width="39.9" height="38.9" fill="#050505"/>
<rect x="2047.2" y="747.6" width="39.9" height="38.9" fill="#050505"/>
<rect x="2086.6" y="747.6" width="109.9" height="38.9" fill="#0d0d0d"/>
<rect x="1426.5" y="786.0" width="109.9" height="108.9" fill="#262626"/>
<rect x="1535.8" y="786.0" width="39.9" height="108.9" fill="#737373"/>
<rect x="1575.2" y="786.0" width="39.9" height="108.9" fill="#bfbfbf"/>
<rect x="1614.5" y="786.0" width="39.9" height="108.9" fill="#cccccc"/>
<rect x="1653.8" y="786.0" width="39.9" height="108.9" fill="#e6e6e6"/>
<rect x="1693.2" y="786.0" width="39.9" height="108.9" fill="#f7f7f7"/>
<rect x="1732.5" y="786.0" width="39.9" height="108.9" fill="#ffffff"/>
<rect x="1771.9" y="786.0" width="39.9" height="108.9" fill="#ffffff"/>
<rect x="1811.2" y="786.0" width="39.9" height="108.9" fill="#d9d9d9"/>
<rect x="1850.5" y="786.0" width="39.9" height="108.9" fill="#bfbfbf"/>
<rect x="1889.9" y="786.0" width="39.9" height="108.9" fill="#808080"/>
<rect x="1929.2" y="786.0" width="39.9" height="108.9" fill="#404040"/>
<rect x="1968.5" y="786.0" width="39.9" height="108.9" fill="#1a1a1a"/>
<rect x="2007.9" y="786.0" width="39.9" height="108.9" fill="#0d0d0d"/>
<rect x="2047.2" y="786.0" width="39.9" height="108.9" fill="#0d0d0d"/>
<rect x="2086.6" y="786.0" width="109.9" height="108.9" fill="#1a1a1a"/>
</g>
<g filter="url(#b9)">
<rect x="1416.8" y="611" width="789.4" height="293.6" fill="#131313"/>
<polygon points="1621.81,578 1608.17,596 1595.62,625 1586.62,660 1577.35,700 1567.08,746 1558.17,778 1482.71,816 1403.29,856 2127.16,856 2042.75,816 1962.57,778 1928.11,746 1905.83,700 1880.38,660 1865.38,625 1852.74,596 1820.73,578" fill="#323232"/>
<polygon points="1630.76,578 1618.91,596 1608.6,625 1599.6,660 1588.99,700 1582.3,746 1573.83,778 1496.14,816 1414.36,856 2096.96,856 2016.79,816 1940.63,778 1908.86,746 1890.17,700 1867.4,660 1852.4,625 1841.55,596 1814.47,578" fill="#545454"/>
<polygon points="1639.71,578 1629.66,596 1621.59,625 1612.59,660 1600.63,700 1597.51,746 1589.5,778 1509.57,816 1425.44,856 2066.75,856 1990.83,816 1918.7,778 1889.61,746 1874.5,700 1854.41,660 1839.41,625 1830.36,596 1808.2,578" fill="#767676"/>
<polygon points="1646.09,578 1637.31,596 1630.12,625 1622.34,660 1611.97,700 1615.88,746 1608.69,778 1540.06,816 1467.83,856 2030.55,856 1960.75,816 1894.44,778 1861.78,746 1849.79,700 1836.97,660 1826,625 1818.79,596 1800.83,578" fill="#989898"/>
<polygon points="1652.39,578 1644.87,596 1638.52,625 1632,660 1623.3,700 1634.34,746 1627.99,778 1571.12,816 1511.25,856 1994.15,856 1930.54,816 1870.1,778 1833.67,746 1824.79,700 1819.37,660 1812.57,625 1807.22,596 1793.42,578" fill="#bbbbbb"/>
<polygon points="1660.14,578 1654.65,596 1649.86,625 1644.76,660 1639.52,700 1657.19,746 1654.33,778 1614.38,816 1572.33,856 1932.68,856 1887.62,816 1844.81,778 1803.67,746 1765.9,700 1718.14,660 1712.56,625 1711.16,596 1709.47,578" fill="#dddddd"/>
<polygon points="1668.92,578 1666.01,596 1663.29,625 1659.74,660 1660.29,700 1687.57,746 1691,778 1667.14,816 1642.03,856 1865.38,856 1834.86,816 1805.86,778 1770.43,746 1729.14,700 1704.71,660 1703.26,625 1702.9,596 1701.72,578" fill="#ffffff"/>
</g>
<g filter="url(#b9)">
<rect x="1430" y="483" width="176" height="45" fill="#ffffff"/>
<rect x="1430" y="529" width="170" height="11" fill="#999999"/>
<ellipse cx="1635" cy="500" rx="24" ry="24" fill="#d1d1d1"/>
<ellipse cx="1552" cy="598" rx="45" ry="13" fill="#000000"/>
<ellipse cx="1520" cy="700" rx="45" ry="60" fill="#0f0f0f"/>
<ellipse cx="2096" cy="505" rx="34" ry="44" fill="#545454"/>
<rect x="2092" y="470" width="108" height="56" fill="#bdbdbd"/>
</g>
<g filter="url(#b6)">
<path d="M1666 535 C1667.5 534.5 1672.3 530.3 1675.0 532.0 C1677.7 533.7 1680.0 537.8 1682.0 545.0 C1684.0 552.2 1685.8 564.2 1687.0 575.0 C1688.2 585.8 1688.8 597.5 1689.0 610.0 C1689.2 622.5 1688.2 643.3 1688.0 650.0" fill="none" stroke="#ffffff" stroke-width="27" stroke-linecap="round" stroke-linejoin="round"/>
<ellipse cx="1677.6" cy="486" rx="7" ry="9" fill="#050505"/>
<ellipse cx="1635" cy="567" rx="8" ry="16" fill="#000000"/>
<ellipse cx="1775" cy="500" rx="8" ry="14" fill="#050505"/>
<ellipse cx="1745" cy="628" rx="13" ry="36" fill="#383838"/>
<ellipse cx="1743" cy="618" rx="6" ry="22" fill="#0d0d0d"/>
<path d="M1737 545 L1741 580" fill="none" stroke="#080808" stroke-width="9" stroke-linecap="round" stroke-linejoin="round"/>
</g>
<g filter="url(#b10)">
<ellipse cx="2040" cy="790" rx="45" ry="25" fill="#050505"/>
<ellipse cx="2010" cy="650" rx="30" ry="14" fill="#080808"/>
<ellipse cx="1950" cy="560" rx="12" ry="30" fill="#080808" transform="rotate(20 1950 560)"/>
<ellipse cx="1990" cy="575" rx="12" ry="30" fill="#080808" transform="rotate(20 1990 575)"/>
<ellipse cx="1930" cy="640" rx="40" ry="12" fill="#1c1c1c"/>
<ellipse cx="2090" cy="680" rx="40" ry="60" fill="#212121"/>
<ellipse cx="1980" cy="730" rx="50" ry="12" fill="#1a1a1a"/>
<ellipse cx="1900" cy="520" rx="30" ry="10" fill="#0d0d0d"/>
<ellipse cx="2020" cy="530" rx="40" ry="12" fill="#262626"/>
</g>
</g></g>
<rect x="1496.8" y="479.6" width="629.4" height="345" fill="none" stroke="#000" stroke-width="1.6"/>
<path d="M1502.2 609.5 H2118.5" stroke="#dedede" stroke-width="5.4" stroke-dasharray="20.3 15.6" fill="none"/>
<path d="M1633.5 824.6 v10 M1797 824.6 v10 M1965.2 824.6 v10 M2124 824.6 v10 " stroke="#000" stroke-width="3.6" fill="none"/>
<text x="1617.3" y="871.8" font-size="32.4" letter-spacing="-1" text-anchor="middle" font-family='"DejaVu Serif", "Liberation Serif", serif'>2500</text>
<text x="1780.1" y="871.8" font-size="32.4" letter-spacing="-1" text-anchor="middle" font-family='"DejaVu Serif", "Liberation Serif", serif'>3000</text>
<text x="1947.3" y="871.8" font-size="32.4" letter-spacing="-1" text-anchor="middle" font-family='"DejaVu Serif", "Liberation Serif", serif'>3500</text>
<text x="2110.8" y="871.8" font-size="32.4" letter-spacing="-1" text-anchor="middle" font-family='"DejaVu Serif", "Liberation Serif", serif'>4000</text>
<text x="1719.3" y="921.9" font-size="34.5" letter-spacing="0.2" font-family='"DejaVu Serif", "Liberation Serif", serif'>ω / cm<tspan dy="-12.5" font-size="25">−1</tspan></text>
<text y="805.8" font-size="43" font-family='"DejaVu Serif", "Liberation Serif", serif'><tspan x="1676.3" font-style="italic">n</tspan><tspan x="1719.8">=</tspan><tspan x="1773.8">3</tspan></text>
<defs>
<filter id="bone" x="0" y="0" width="100%" height="100%" filterUnits="objectBoundingBox" color-interpolation-filters="sRGB"><feComponentTransfer><feFuncR type="table" tableValues="0.000 0.014 0.028 0.042 0.056 0.069 0.083 0.097 0.111 0.125 0.139 0.153 0.167 0.181 0.194 0.208 0.222 0.236 0.250 0.264 0.278 0.292 0.306 0.319 0.333 0.347 0.361 0.375 0.389 0.403 0.417 0.431 0.444 0.458 0.472 0.486 0.500 0.514 0.528 0.542 0.556 0.569 0.583 0.597 0.611 0.625 0.639 0.653 0.674 0.696 0.718 0.740 0.761 0.783 0.805 0.826 0.848 0.870 0.891 0.913 0.935 0.957 0.978 1.000"/><feFuncG type="table" tableValues="0.000 0.014 0.028 0.042 0.056 0.069 0.083 0.097 0.111 0.125 0.139 0.153 0.167 0.181 0.194 0.208 0.222 0.236 0.250 0.264 0.278 0.292 0.306 0.319 0.339 0.358 0.377 0.396 0.415 0.434 0.453 0.472 0.491 0.510 0.530 0.549 0.568 0.587 0.606 0.625 0.644 0.663 0.682 0.701 0.720 0.740 0.759 0.778 0.792 0.806 0.819 0.833 0.847 0.861 0.875 0.889 0.903 0.917 0.931 0.944 0.958 0.972 0.986 1.000"/><feFuncB type="table" tableValues="0.000 0.019 0.039 0.058 0.077 0.097 0.116 0.135 0.155 0.174 0.193 0.213 0.232 0.251 0.271 0.290 0.309 0.329 0.348 0.367 0.386 0.406 0.425 0.444 0.458 0.472 0.486 0.500 0.514 0.528 0.542 0.556 0.569 0.583 0.597 0.611 0.625 0.639 0.653 0.667 0.681 0.694 0.708 0.722 0.736 0.750 0.764 0.778 0.792 0.806 0.819 0.833 0.847 0.861 0.875 0.889 0.903 0.917 0.931 0.944 0.958 0.972 0.986 1.000"/></feComponentTransfer></filter>
<filter id="b5" x="-50%" y="-50%" width="200%" height="200%" color-interpolation-filters="sRGB"><feGaussianBlur stdDeviation="5"/></filter>
<filter id="b6" x="-50%" y="-50%" width="200%" height="200%" color-interpolation-filters="sRGB"><feGaussianBlur stdDeviation="6"/></filter>
<filter id="b7" x="-50%" y="-50%" width="200%" height="200%" color-interpolation-filters="sRGB"><feGaussianBlur stdDeviation="7"/></filter>
<filter id="b8" x="-50%" y="-50%" width="200%" height="200%" color-interpolation-filters="sRGB"><feGaussianBlur stdDeviation="8"/></filter>
<filter id="b9" x="-50%" y="-50%" width="200%" height="200%" color-interpolation-filters="sRGB"><feGaussianBlur stdDeviation="9"/></filter>
<filter id="b10" x="-50%" y="-50%" width="200%" height="200%" color-interpolation-filters="sRGB"><feGaussianBlur stdDeviation="10"/></filter>
<filter id="b16" x="-50%" y="-50%" width="200%" height="200%" color-interpolation-filters="sRGB"><feGaussianBlur stdDeviation="16"/></filter>
</defs>
<text x="7.5" y="505.6" font-size="47" font-family='"DejaVu Serif", "Liberation Serif", serif'>(c)</text>
<text x="84" y="513.7" font-size="27.5" letter-spacing="-0.5" font-family='"DejaVu Serif", "Liberation Serif", serif'>1.6</text>
<text x="116.5" y="831.2" font-size="29.5" font-family='"DejaVu Serif", "Liberation Serif", serif'>0</text>
<text transform="translate(96.2 647) rotate(-90)" font-size="34" text-anchor="middle" font-family='"DejaVu Serif", "Liberation Serif", serif'>Time / ps</text>
</g>
</svg></body></html>
